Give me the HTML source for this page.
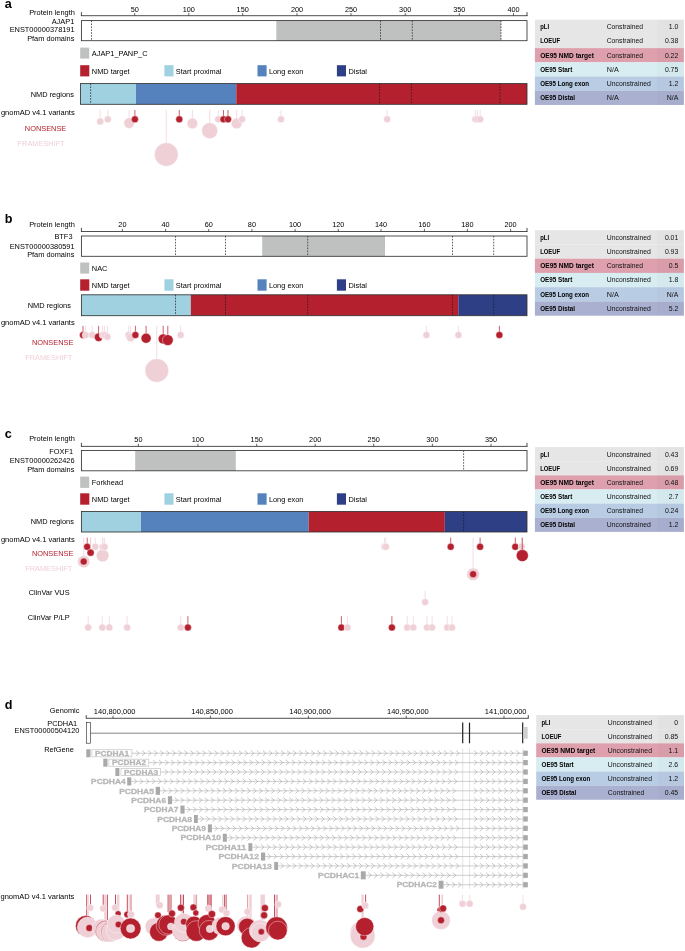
<!DOCTYPE html>
<html><head><meta charset="utf-8"><title>Figure</title>
<style>html,body{margin:0;padding:0;background:#fff}svg{display:block;will-change:transform}text{font-family:"Liberation Sans",sans-serif}</style>
</head><body>
<svg width="685" height="951" viewBox="0 0 685 951">
<rect width="685" height="951" fill="#fff"/>
<text x="4.8" y="8.4" font-size="12.6" text-anchor="start" fill="#000" font-weight="bold">a</text>
<line x1="81.00" y1="15.70" x2="527.40" y2="15.70" stroke="#222" stroke-width="0.8"/>
<line x1="81.40" y1="12.10" x2="81.40" y2="16.00" stroke="#222" stroke-width="0.8"/>
<line x1="527.00" y1="12.10" x2="527.00" y2="16.00" stroke="#222" stroke-width="0.8"/>
<line x1="134.70" y1="13.10" x2="134.70" y2="15.70" stroke="#222" stroke-width="0.7"/>
<text x="134.7" y="11.7" font-size="7.3" text-anchor="middle" fill="#000">50</text>
<line x1="188.80" y1="13.10" x2="188.80" y2="15.70" stroke="#222" stroke-width="0.7"/>
<text x="188.8" y="11.7" font-size="7.3" text-anchor="middle" fill="#000">100</text>
<line x1="242.70" y1="13.10" x2="242.70" y2="15.70" stroke="#222" stroke-width="0.7"/>
<text x="242.7" y="11.7" font-size="7.3" text-anchor="middle" fill="#000">150</text>
<line x1="297.00" y1="13.10" x2="297.00" y2="15.70" stroke="#222" stroke-width="0.7"/>
<text x="297.0" y="11.7" font-size="7.3" text-anchor="middle" fill="#000">200</text>
<line x1="351.00" y1="13.10" x2="351.00" y2="15.70" stroke="#222" stroke-width="0.7"/>
<text x="351.0" y="11.7" font-size="7.3" text-anchor="middle" fill="#000">250</text>
<line x1="405.20" y1="13.10" x2="405.20" y2="15.70" stroke="#222" stroke-width="0.7"/>
<text x="405.2" y="11.7" font-size="7.3" text-anchor="middle" fill="#000">300</text>
<line x1="459.30" y1="13.10" x2="459.30" y2="15.70" stroke="#222" stroke-width="0.7"/>
<text x="459.3" y="11.7" font-size="7.3" text-anchor="middle" fill="#000">350</text>
<line x1="513.50" y1="13.10" x2="513.50" y2="15.70" stroke="#222" stroke-width="0.7"/>
<text x="513.5" y="11.7" font-size="7.3" text-anchor="middle" fill="#000">400</text>
<text x="74.8" y="14.8" font-size="7.4" text-anchor="end" fill="#000">Protein length</text>
<text x="74.3" y="23.7" font-size="7.4" text-anchor="end" fill="#000">AJAP1</text>
<text x="74.6" y="32.1" font-size="7.4" text-anchor="end" fill="#000">ENST00000378191</text>
<text x="74.4" y="40.9" font-size="7.4" text-anchor="end" fill="#000">Pfam domains</text>
<rect x="81.40" y="20.60" width="445.60" height="20.10" fill="#fff"/>
<rect x="276.30" y="20.60" width="224.70" height="20.10" fill="#bfc1c0"/>
<line x1="91.50" y1="20.60" x2="91.50" y2="40.70" stroke="#1a1a1a" stroke-width="0.7" stroke-dasharray="1.6 1.3"/>
<line x1="380.50" y1="20.60" x2="380.50" y2="40.70" stroke="#1a1a1a" stroke-width="0.7" stroke-dasharray="1.6 1.3"/>
<line x1="412.30" y1="20.60" x2="412.30" y2="40.70" stroke="#1a1a1a" stroke-width="0.7" stroke-dasharray="1.6 1.3"/>
<line x1="501.00" y1="20.60" x2="501.00" y2="40.70" stroke="#1a1a1a" stroke-width="0.7" stroke-dasharray="1.6 1.3"/>
<rect x="81.40" y="20.60" width="445.60" height="20.10" fill="none" stroke="#333" stroke-width="0.85"/>
<rect x="80.20" y="47.60" width="9.00" height="11.00" fill="#bfc1c0"/>
<text x="91.8" y="55.7" font-size="7.4" text-anchor="start" fill="#000">AJAP1_PANP_C</text>
<rect x="80.20" y="65.20" width="9.10" height="11.20" fill="#b5202e"/>
<text x="91.8" y="73.5" font-size="7.4" text-anchor="start" fill="#000">NMD target</text>
<rect x="164.40" y="65.20" width="9.10" height="11.20" fill="#9fd1e1"/>
<text x="175.8" y="73.5" font-size="7.4" text-anchor="start" fill="#000">Start proximal</text>
<rect x="257.50" y="65.20" width="9.10" height="11.20" fill="#5581bd"/>
<text x="268.9" y="73.5" font-size="7.4" text-anchor="start" fill="#000">Long exon</text>
<rect x="336.90" y="65.20" width="9.10" height="11.20" fill="#2f3f86"/>
<text x="348.5" y="73.5" font-size="7.4" text-anchor="start" fill="#000">Distal</text>
<rect x="80.50" y="83.60" width="55.50" height="20.70" fill="#9fd1e1"/>
<rect x="136.00" y="83.60" width="100.30" height="20.70" fill="#5581bd"/>
<rect x="236.30" y="83.60" width="290.70" height="20.70" fill="#b5202e"/>
<line x1="90.60" y1="83.60" x2="90.60" y2="104.30" stroke="#1a1a1a" stroke-width="0.7" stroke-dasharray="1.6 1.3"/>
<line x1="379.60" y1="83.60" x2="379.60" y2="104.30" stroke="#1a1a1a" stroke-width="0.7" stroke-dasharray="1.6 1.3"/>
<line x1="411.40" y1="83.60" x2="411.40" y2="104.30" stroke="#1a1a1a" stroke-width="0.7" stroke-dasharray="1.6 1.3"/>
<line x1="500.10" y1="83.60" x2="500.10" y2="104.30" stroke="#1a1a1a" stroke-width="0.7" stroke-dasharray="1.6 1.3"/>
<rect x="80.50" y="83.60" width="446.50" height="20.70" fill="none" stroke="#333" stroke-width="0.85"/>
<text x="73.9" y="96.6" font-size="7.4" text-anchor="end" fill="#000">NMD regions</text>
<text x="74.7" y="115.1" font-size="7.5" text-anchor="end" fill="#000">gnomAD v4.1 variants</text>
<rect x="534.90" y="19.70" width="149.00" height="14.25" fill="#e5e6e5"/>
<text x="540.1999999999999" y="29.25" font-size="6.8" text-anchor="start" fill="#000" font-weight="bold" textLength="8.9" lengthAdjust="spacingAndGlyphs">pLI</text>
<text x="606.6999999999999" y="29.25" font-size="6.9" text-anchor="start" fill="#111" textLength="36.4" lengthAdjust="spacingAndGlyphs">Constrained</text>
<text x="678.3" y="29.25" font-size="6.9" text-anchor="end" fill="#111">1.0</text>
<rect x="534.90" y="33.90" width="149.00" height="14.25" fill="#e5e6e5"/>
<text x="540.1999999999999" y="43.45" font-size="6.8" text-anchor="start" fill="#000" font-weight="bold" textLength="19.9" lengthAdjust="spacingAndGlyphs">LOEUF</text>
<text x="606.6999999999999" y="43.45" font-size="6.9" text-anchor="start" fill="#111" textLength="36.4" lengthAdjust="spacingAndGlyphs">Constrained</text>
<text x="678.3" y="43.45" font-size="6.9" text-anchor="end" fill="#111">0.38</text>
<rect x="534.90" y="48.10" width="149.00" height="14.25" fill="#dda0ac"/>
<text x="540.1999999999999" y="57.64999999999999" font-size="6.8" text-anchor="start" fill="#000" font-weight="bold" textLength="53.8" lengthAdjust="spacingAndGlyphs">OE95 NMD target</text>
<text x="606.6999999999999" y="57.64999999999999" font-size="6.9" text-anchor="start" fill="#111" textLength="36.4" lengthAdjust="spacingAndGlyphs">Constrained</text>
<text x="678.3" y="57.64999999999999" font-size="6.9" text-anchor="end" fill="#111">0.22</text>
<rect x="534.90" y="62.30" width="149.00" height="14.25" fill="#d8edf2"/>
<text x="540.1999999999999" y="71.85" font-size="6.8" text-anchor="start" fill="#000" font-weight="bold" textLength="32.2" lengthAdjust="spacingAndGlyphs">OE95 Start</text>
<text x="606.6999999999999" y="71.85" font-size="6.9" text-anchor="start" fill="#111" textLength="12.0" lengthAdjust="spacingAndGlyphs">N/A</text>
<text x="678.3" y="71.85" font-size="6.9" text-anchor="end" fill="#111">0.75</text>
<rect x="534.90" y="76.50" width="149.00" height="14.25" fill="#b8cce4"/>
<text x="540.1999999999999" y="86.05" font-size="6.8" text-anchor="start" fill="#000" font-weight="bold" textLength="48.8" lengthAdjust="spacingAndGlyphs">OE95 Long exon</text>
<text x="606.6999999999999" y="86.05" font-size="6.9" text-anchor="start" fill="#111" textLength="44.2" lengthAdjust="spacingAndGlyphs">Unconstrained</text>
<text x="678.3" y="86.05" font-size="6.9" text-anchor="end" fill="#111">1.2</text>
<rect x="534.90" y="90.70" width="149.00" height="14.25" fill="#aab0d0"/>
<text x="540.1999999999999" y="100.25" font-size="6.8" text-anchor="start" fill="#000" font-weight="bold" textLength="34.8" lengthAdjust="spacingAndGlyphs">OE95 Distal</text>
<text x="606.6999999999999" y="100.25" font-size="6.9" text-anchor="start" fill="#111" textLength="12.0" lengthAdjust="spacingAndGlyphs">N/A</text>
<text x="678.3" y="100.25" font-size="6.9" text-anchor="end" fill="#111">N/A</text>
<rect x="656.90" y="19.70" width="27.00" height="85.20" fill="#000" opacity="0.015"/>
<text x="66.3" y="131.3" font-size="7.4" text-anchor="end" fill="#b5202e">NONSENSE</text>
<text x="64.8" y="146.2" font-size="7.4" text-anchor="end" fill="#efd0d7">FRAMESHIFT</text>
<line x1="100.20" y1="110.00" x2="100.20" y2="121.40" stroke="#efd0d7" stroke-width="0.7"/>
<circle cx="100.20" cy="121.40" r="3.50" fill="#efd0d7" stroke="#fff" stroke-width="0.4"/>
<line x1="107.80" y1="110.00" x2="107.80" y2="119.30" stroke="#efd0d7" stroke-width="0.7"/>
<circle cx="107.80" cy="119.30" r="3.50" fill="#efd0d7" stroke="#fff" stroke-width="0.4"/>
<line x1="129.10" y1="110.00" x2="129.10" y2="123.10" stroke="#efd0d7" stroke-width="0.7"/>
<circle cx="129.10" cy="123.10" r="5.30" fill="#efd0d7" stroke="#fff" stroke-width="0.4"/>
<line x1="134.90" y1="110.00" x2="134.90" y2="119.30" stroke="#b5202e" stroke-width="0.7"/>
<circle cx="134.90" cy="119.30" r="3.50" fill="#b5202e" stroke="#fff" stroke-width="0.4"/>
<line x1="166.30" y1="110.00" x2="166.30" y2="154.50" stroke="#efd0d7" stroke-width="0.7"/>
<circle cx="166.30" cy="154.50" r="11.80" fill="#efd0d7" stroke="#fff" stroke-width="0.4"/>
<line x1="179.30" y1="110.00" x2="179.30" y2="119.30" stroke="#b5202e" stroke-width="0.7"/>
<circle cx="179.30" cy="119.30" r="3.50" fill="#b5202e" stroke="#fff" stroke-width="0.4"/>
<line x1="192.40" y1="110.00" x2="192.40" y2="123.40" stroke="#efd0d7" stroke-width="0.7"/>
<circle cx="192.40" cy="123.40" r="5.30" fill="#efd0d7" stroke="#fff" stroke-width="0.4"/>
<line x1="209.70" y1="110.00" x2="209.70" y2="130.70" stroke="#efd0d7" stroke-width="0.7"/>
<circle cx="209.70" cy="130.70" r="8.00" fill="#efd0d7" stroke="#fff" stroke-width="0.4"/>
<line x1="218.20" y1="110.00" x2="218.20" y2="119.30" stroke="#efd0d7" stroke-width="0.7"/>
<circle cx="218.20" cy="119.30" r="3.50" fill="#efd0d7" stroke="#fff" stroke-width="0.4"/>
<line x1="223.50" y1="110.00" x2="223.50" y2="119.30" stroke="#b5202e" stroke-width="0.7"/>
<circle cx="223.50" cy="119.30" r="3.50" fill="#b5202e" stroke="#fff" stroke-width="0.4"/>
<line x1="228.00" y1="110.00" x2="228.00" y2="119.30" stroke="#b5202e" stroke-width="0.7"/>
<circle cx="228.00" cy="119.30" r="3.50" fill="#b5202e" stroke="#fff" stroke-width="0.4"/>
<line x1="236.60" y1="110.00" x2="236.60" y2="123.40" stroke="#efd0d7" stroke-width="0.7"/>
<circle cx="236.60" cy="123.40" r="5.30" fill="#efd0d7" stroke="#fff" stroke-width="0.4"/>
<line x1="242.10" y1="110.00" x2="242.10" y2="119.30" stroke="#efd0d7" stroke-width="0.7"/>
<circle cx="242.10" cy="119.30" r="3.50" fill="#efd0d7" stroke="#fff" stroke-width="0.4"/>
<line x1="281.00" y1="110.00" x2="281.00" y2="119.30" stroke="#efd0d7" stroke-width="0.7"/>
<circle cx="281.00" cy="119.30" r="3.50" fill="#efd0d7" stroke="#fff" stroke-width="0.4"/>
<line x1="387.20" y1="110.00" x2="387.20" y2="119.30" stroke="#efd0d7" stroke-width="0.7"/>
<circle cx="387.20" cy="119.30" r="3.50" fill="#efd0d7" stroke="#fff" stroke-width="0.4"/>
<line x1="475.40" y1="110.00" x2="475.40" y2="119.30" stroke="#efd0d7" stroke-width="0.7"/>
<circle cx="475.40" cy="119.30" r="3.50" fill="#efd0d7" stroke="#fff" stroke-width="0.4"/>
<line x1="477.40" y1="110.00" x2="477.40" y2="119.30" stroke="#efd0d7" stroke-width="0.7"/>
<circle cx="477.40" cy="119.30" r="3.50" fill="#efd0d7" stroke="#fff" stroke-width="0.4"/>
<line x1="480.20" y1="110.00" x2="480.20" y2="119.30" stroke="#efd0d7" stroke-width="0.7"/>
<circle cx="480.20" cy="119.30" r="3.50" fill="#efd0d7" stroke="#fff" stroke-width="0.4"/>
<text x="4.8" y="222.6" font-size="12.6" text-anchor="start" fill="#000" font-weight="bold">b</text>
<line x1="81.00" y1="231.50" x2="527.40" y2="231.50" stroke="#222" stroke-width="0.8"/>
<line x1="81.40" y1="227.90" x2="81.40" y2="231.80" stroke="#222" stroke-width="0.8"/>
<line x1="527.00" y1="227.90" x2="527.00" y2="231.80" stroke="#222" stroke-width="0.8"/>
<line x1="122.40" y1="228.90" x2="122.40" y2="231.50" stroke="#222" stroke-width="0.7"/>
<text x="122.4" y="227.4" font-size="7.3" text-anchor="middle" fill="#000">20</text>
<line x1="165.60" y1="228.90" x2="165.60" y2="231.50" stroke="#222" stroke-width="0.7"/>
<text x="165.6" y="227.4" font-size="7.3" text-anchor="middle" fill="#000">40</text>
<line x1="208.70" y1="228.90" x2="208.70" y2="231.50" stroke="#222" stroke-width="0.7"/>
<text x="208.7" y="227.4" font-size="7.3" text-anchor="middle" fill="#000">60</text>
<line x1="251.90" y1="228.90" x2="251.90" y2="231.50" stroke="#222" stroke-width="0.7"/>
<text x="251.9" y="227.4" font-size="7.3" text-anchor="middle" fill="#000">80</text>
<line x1="295.10" y1="228.90" x2="295.10" y2="231.50" stroke="#222" stroke-width="0.7"/>
<text x="295.1" y="227.4" font-size="7.3" text-anchor="middle" fill="#000">100</text>
<line x1="338.30" y1="228.90" x2="338.30" y2="231.50" stroke="#222" stroke-width="0.7"/>
<text x="338.3" y="227.4" font-size="7.3" text-anchor="middle" fill="#000">120</text>
<line x1="381.00" y1="228.90" x2="381.00" y2="231.50" stroke="#222" stroke-width="0.7"/>
<text x="381.0" y="227.4" font-size="7.3" text-anchor="middle" fill="#000">140</text>
<line x1="424.40" y1="228.90" x2="424.40" y2="231.50" stroke="#222" stroke-width="0.7"/>
<text x="424.4" y="227.4" font-size="7.3" text-anchor="middle" fill="#000">160</text>
<line x1="467.40" y1="228.90" x2="467.40" y2="231.50" stroke="#222" stroke-width="0.7"/>
<text x="467.4" y="227.4" font-size="7.3" text-anchor="middle" fill="#000">180</text>
<line x1="510.60" y1="228.90" x2="510.60" y2="231.50" stroke="#222" stroke-width="0.7"/>
<text x="510.6" y="227.4" font-size="7.3" text-anchor="middle" fill="#000">200</text>
<text x="74.8" y="226.5" font-size="7.4" text-anchor="end" fill="#000">Protein length</text>
<text x="72.5" y="239.4" font-size="7.4" text-anchor="end" fill="#000">BTF3</text>
<text x="74.6" y="248.6" font-size="7.4" text-anchor="end" fill="#000">ENST00000380591</text>
<text x="74.4" y="257.3" font-size="7.4" text-anchor="end" fill="#000">Pfam domains</text>
<rect x="81.40" y="236.00" width="445.60" height="20.30" fill="#fff"/>
<rect x="262.20" y="236.00" width="122.80" height="20.30" fill="#bfc1c0"/>
<line x1="175.50" y1="236.00" x2="175.50" y2="256.30" stroke="#1a1a1a" stroke-width="0.7" stroke-dasharray="1.6 1.3"/>
<line x1="225.50" y1="236.00" x2="225.50" y2="256.30" stroke="#1a1a1a" stroke-width="0.7" stroke-dasharray="1.6 1.3"/>
<line x1="307.70" y1="236.00" x2="307.70" y2="256.30" stroke="#1a1a1a" stroke-width="0.7" stroke-dasharray="1.6 1.3"/>
<line x1="452.50" y1="236.00" x2="452.50" y2="256.30" stroke="#1a1a1a" stroke-width="0.7" stroke-dasharray="1.6 1.3"/>
<line x1="493.70" y1="236.00" x2="493.70" y2="256.30" stroke="#1a1a1a" stroke-width="0.7" stroke-dasharray="1.6 1.3"/>
<rect x="81.40" y="236.00" width="445.60" height="20.30" fill="none" stroke="#333" stroke-width="0.85"/>
<rect x="80.20" y="262.50" width="9.00" height="11.10" fill="#bfc1c0"/>
<text x="91.8" y="270.8" font-size="7.4" text-anchor="start" fill="#000">NAC</text>
<rect x="80.20" y="279.30" width="9.10" height="11.40" fill="#b5202e"/>
<text x="91.8" y="287.6" font-size="7.4" text-anchor="start" fill="#000">NMD target</text>
<rect x="164.40" y="279.30" width="9.10" height="11.40" fill="#9fd1e1"/>
<text x="175.8" y="287.6" font-size="7.4" text-anchor="start" fill="#000">Start proximal</text>
<rect x="257.50" y="279.30" width="9.10" height="11.40" fill="#5581bd"/>
<text x="268.9" y="287.6" font-size="7.4" text-anchor="start" fill="#000">Long exon</text>
<rect x="336.90" y="279.30" width="9.10" height="11.40" fill="#2f3f86"/>
<text x="348.5" y="287.6" font-size="7.4" text-anchor="start" fill="#000">Distal</text>
<rect x="81.40" y="294.80" width="109.40" height="20.90" fill="#9fd1e1"/>
<rect x="190.80" y="294.80" width="267.50" height="20.90" fill="#b5202e"/>
<rect x="458.30" y="294.80" width="68.70" height="20.90" fill="#2f3f86"/>
<line x1="175.50" y1="294.80" x2="175.50" y2="315.70" stroke="#1a1a1a" stroke-width="0.7" stroke-dasharray="1.6 1.3"/>
<line x1="225.50" y1="294.80" x2="225.50" y2="315.70" stroke="#1a1a1a" stroke-width="0.7" stroke-dasharray="1.6 1.3"/>
<line x1="307.70" y1="294.80" x2="307.70" y2="315.70" stroke="#1a1a1a" stroke-width="0.7" stroke-dasharray="1.6 1.3"/>
<line x1="452.50" y1="294.80" x2="452.50" y2="315.70" stroke="#1a1a1a" stroke-width="0.7" stroke-dasharray="1.6 1.3"/>
<line x1="493.70" y1="294.80" x2="493.70" y2="315.70" stroke="#1a1a1a" stroke-width="0.7" stroke-dasharray="1.6 1.3"/>
<rect x="81.40" y="294.80" width="445.60" height="20.90" fill="none" stroke="#333" stroke-width="0.85"/>
<text x="70.9" y="307.9" font-size="7.4" text-anchor="end" fill="#000">NMD regions</text>
<text x="74.7" y="325.4" font-size="7.5" text-anchor="end" fill="#000">gnomAD v4.1 variants</text>
<rect x="534.90" y="230.20" width="149.00" height="14.29" fill="#e5e6e5"/>
<text x="540.1999999999999" y="239.75" font-size="6.8" text-anchor="start" fill="#000" font-weight="bold" textLength="8.9" lengthAdjust="spacingAndGlyphs">pLI</text>
<text x="606.6999999999999" y="239.75" font-size="6.9" text-anchor="start" fill="#111" textLength="44.2" lengthAdjust="spacingAndGlyphs">Unconstrained</text>
<text x="678.3" y="239.75" font-size="6.9" text-anchor="end" fill="#111">0.01</text>
<rect x="534.90" y="244.44" width="149.00" height="14.29" fill="#e5e6e5"/>
<text x="540.1999999999999" y="253.99" font-size="6.8" text-anchor="start" fill="#000" font-weight="bold" textLength="19.9" lengthAdjust="spacingAndGlyphs">LOEUF</text>
<text x="606.6999999999999" y="253.99" font-size="6.9" text-anchor="start" fill="#111" textLength="44.2" lengthAdjust="spacingAndGlyphs">Unconstrained</text>
<text x="678.3" y="253.99" font-size="6.9" text-anchor="end" fill="#111">0.93</text>
<rect x="534.90" y="258.68" width="149.00" height="14.29" fill="#dda0ac"/>
<text x="540.1999999999999" y="268.23" font-size="6.8" text-anchor="start" fill="#000" font-weight="bold" textLength="53.8" lengthAdjust="spacingAndGlyphs">OE95 NMD target</text>
<text x="606.6999999999999" y="268.23" font-size="6.9" text-anchor="start" fill="#111" textLength="36.4" lengthAdjust="spacingAndGlyphs">Constrained</text>
<text x="678.3" y="268.23" font-size="6.9" text-anchor="end" fill="#111">0.5</text>
<rect x="534.90" y="272.92" width="149.00" height="14.29" fill="#d8edf2"/>
<text x="540.1999999999999" y="282.46999999999997" font-size="6.8" text-anchor="start" fill="#000" font-weight="bold" textLength="32.2" lengthAdjust="spacingAndGlyphs">OE95 Start</text>
<text x="606.6999999999999" y="282.46999999999997" font-size="6.9" text-anchor="start" fill="#111" textLength="44.2" lengthAdjust="spacingAndGlyphs">Unconstrained</text>
<text x="678.3" y="282.46999999999997" font-size="6.9" text-anchor="end" fill="#111">1.8</text>
<rect x="534.90" y="287.16" width="149.00" height="14.29" fill="#b8cce4"/>
<text x="540.1999999999999" y="296.71" font-size="6.8" text-anchor="start" fill="#000" font-weight="bold" textLength="48.8" lengthAdjust="spacingAndGlyphs">OE95 Long exon</text>
<text x="606.6999999999999" y="296.71" font-size="6.9" text-anchor="start" fill="#111" textLength="12.0" lengthAdjust="spacingAndGlyphs">N/A</text>
<text x="678.3" y="296.71" font-size="6.9" text-anchor="end" fill="#111">N/A</text>
<rect x="534.90" y="301.40" width="149.00" height="14.29" fill="#aab0d0"/>
<text x="540.1999999999999" y="310.95" font-size="6.8" text-anchor="start" fill="#000" font-weight="bold" textLength="34.8" lengthAdjust="spacingAndGlyphs">OE95 Distal</text>
<text x="606.6999999999999" y="310.95" font-size="6.9" text-anchor="start" fill="#111" textLength="44.2" lengthAdjust="spacingAndGlyphs">Unconstrained</text>
<text x="678.3" y="310.95" font-size="6.9" text-anchor="end" fill="#111">5.2</text>
<rect x="656.90" y="230.20" width="27.00" height="85.44" fill="#000" opacity="0.015"/>
<text x="73.4" y="344.9" font-size="7.4" text-anchor="end" fill="#b5202e">NONSENSE</text>
<text x="72.4" y="359.8" font-size="7.4" text-anchor="end" fill="#efd0d7">FRAMESHIFT</text>
<line x1="83.00" y1="325.80" x2="83.00" y2="335.00" stroke="#b5202e" stroke-width="0.7"/>
<circle cx="83.00" cy="335.00" r="3.50" fill="#b5202e" stroke="#fff" stroke-width="0.4"/>
<line x1="85.60" y1="325.80" x2="85.60" y2="335.00" stroke="#efd0d7" stroke-width="0.7"/>
<circle cx="85.60" cy="335.00" r="3.50" fill="#efd0d7" stroke="#fff" stroke-width="0.4"/>
<line x1="92.30" y1="325.80" x2="92.30" y2="335.00" stroke="#efd0d7" stroke-width="0.7"/>
<circle cx="92.30" cy="335.00" r="3.50" fill="#efd0d7" stroke="#fff" stroke-width="0.4"/>
<line x1="98.60" y1="325.80" x2="98.60" y2="337.30" stroke="#b5202e" stroke-width="0.7"/>
<circle cx="98.60" cy="337.30" r="4.20" fill="#b5202e" stroke="#fff" stroke-width="0.4"/>
<line x1="102.60" y1="325.80" x2="102.60" y2="335.00" stroke="#efd0d7" stroke-width="0.7"/>
<circle cx="102.60" cy="335.00" r="3.50" fill="#efd0d7" stroke="#fff" stroke-width="0.4"/>
<line x1="104.60" y1="325.80" x2="104.60" y2="335.00" stroke="#efd0d7" stroke-width="0.7"/>
<circle cx="104.60" cy="335.00" r="3.50" fill="#efd0d7" stroke="#fff" stroke-width="0.4"/>
<line x1="107.40" y1="325.80" x2="107.40" y2="336.70" stroke="#efd0d7" stroke-width="0.7"/>
<circle cx="107.40" cy="336.70" r="3.50" fill="#efd0d7" stroke="#fff" stroke-width="0.4"/>
<line x1="128.60" y1="325.80" x2="128.60" y2="335.00" stroke="#efd0d7" stroke-width="0.7"/>
<circle cx="128.60" cy="335.00" r="3.50" fill="#efd0d7" stroke="#fff" stroke-width="0.4"/>
<line x1="130.60" y1="325.80" x2="130.60" y2="337.60" stroke="#efd0d7" stroke-width="0.7"/>
<circle cx="130.60" cy="337.60" r="4.20" fill="#efd0d7" stroke="#fff" stroke-width="0.4"/>
<line x1="135.40" y1="325.80" x2="135.40" y2="335.00" stroke="#b5202e" stroke-width="0.7"/>
<circle cx="135.40" cy="335.00" r="3.50" fill="#b5202e" stroke="#fff" stroke-width="0.4"/>
<line x1="146.10" y1="325.80" x2="146.10" y2="338.30" stroke="#b5202e" stroke-width="0.7"/>
<circle cx="146.10" cy="338.30" r="5.00" fill="#b5202e" stroke="#fff" stroke-width="0.4"/>
<line x1="156.80" y1="325.80" x2="156.80" y2="370.50" stroke="#efd0d7" stroke-width="0.7"/>
<circle cx="156.80" cy="370.50" r="11.80" fill="#efd0d7" stroke="#fff" stroke-width="0.4"/>
<line x1="163.20" y1="325.80" x2="163.20" y2="339.00" stroke="#b5202e" stroke-width="0.7"/>
<circle cx="163.20" cy="339.00" r="5.00" fill="#b5202e" stroke="#fff" stroke-width="0.4"/>
<line x1="167.80" y1="325.80" x2="167.80" y2="340.10" stroke="#b5202e" stroke-width="0.7"/>
<circle cx="167.80" cy="340.10" r="5.40" fill="#b5202e" stroke="#fff" stroke-width="0.4"/>
<line x1="180.60" y1="325.80" x2="180.60" y2="335.00" stroke="#efd0d7" stroke-width="0.7"/>
<circle cx="180.60" cy="335.00" r="3.50" fill="#efd0d7" stroke="#fff" stroke-width="0.4"/>
<line x1="426.40" y1="325.80" x2="426.40" y2="335.00" stroke="#efd0d7" stroke-width="0.7"/>
<circle cx="426.40" cy="335.00" r="3.50" fill="#efd0d7" stroke="#fff" stroke-width="0.4"/>
<line x1="458.40" y1="325.80" x2="458.40" y2="335.00" stroke="#efd0d7" stroke-width="0.7"/>
<circle cx="458.40" cy="335.00" r="3.50" fill="#efd0d7" stroke="#fff" stroke-width="0.4"/>
<line x1="499.40" y1="325.80" x2="499.40" y2="335.00" stroke="#b5202e" stroke-width="0.7"/>
<circle cx="499.40" cy="335.00" r="3.50" fill="#b5202e" stroke="#fff" stroke-width="0.4"/>
<text x="4.8" y="438.3" font-size="12.6" text-anchor="start" fill="#000" font-weight="bold">c</text>
<line x1="81.00" y1="446.40" x2="527.40" y2="446.40" stroke="#222" stroke-width="0.8"/>
<line x1="81.40" y1="442.80" x2="81.40" y2="446.70" stroke="#222" stroke-width="0.8"/>
<line x1="527.00" y1="442.80" x2="527.00" y2="446.70" stroke="#222" stroke-width="0.8"/>
<line x1="138.40" y1="443.80" x2="138.40" y2="446.40" stroke="#222" stroke-width="0.7"/>
<text x="138.4" y="441.6" font-size="7.3" text-anchor="middle" fill="#000">50</text>
<line x1="197.90" y1="443.80" x2="197.90" y2="446.40" stroke="#222" stroke-width="0.7"/>
<text x="197.9" y="441.6" font-size="7.3" text-anchor="middle" fill="#000">100</text>
<line x1="256.70" y1="443.80" x2="256.70" y2="446.40" stroke="#222" stroke-width="0.7"/>
<text x="256.7" y="441.6" font-size="7.3" text-anchor="middle" fill="#000">150</text>
<line x1="315.20" y1="443.80" x2="315.20" y2="446.40" stroke="#222" stroke-width="0.7"/>
<text x="315.2" y="441.6" font-size="7.3" text-anchor="middle" fill="#000">200</text>
<line x1="373.70" y1="443.80" x2="373.70" y2="446.40" stroke="#222" stroke-width="0.7"/>
<text x="373.7" y="441.6" font-size="7.3" text-anchor="middle" fill="#000">250</text>
<line x1="432.40" y1="443.80" x2="432.40" y2="446.40" stroke="#222" stroke-width="0.7"/>
<text x="432.4" y="441.6" font-size="7.3" text-anchor="middle" fill="#000">300</text>
<line x1="491.00" y1="443.80" x2="491.00" y2="446.40" stroke="#222" stroke-width="0.7"/>
<text x="491.0" y="441.6" font-size="7.3" text-anchor="middle" fill="#000">350</text>
<text x="74.8" y="441.2" font-size="7.4" text-anchor="end" fill="#000">Protein length</text>
<text x="73.2" y="454.2" font-size="7.4" text-anchor="end" fill="#000">FOXF1</text>
<text x="74.6" y="463.4" font-size="7.4" text-anchor="end" fill="#000">ENST00000262426</text>
<text x="74.4" y="472.2" font-size="7.4" text-anchor="end" fill="#000">Pfam domains</text>
<rect x="81.40" y="450.50" width="445.60" height="20.30" fill="#fff"/>
<rect x="135.20" y="450.50" width="100.60" height="20.30" fill="#bfc1c0"/>
<line x1="463.60" y1="450.50" x2="463.60" y2="470.80" stroke="#1a1a1a" stroke-width="0.7" stroke-dasharray="1.6 1.3"/>
<rect x="81.40" y="450.50" width="445.60" height="20.30" fill="none" stroke="#333" stroke-width="0.85"/>
<rect x="80.20" y="476.60" width="9.00" height="11.30" fill="#bfc1c0"/>
<text x="91.8" y="484.9" font-size="7.4" text-anchor="start" fill="#000">Forkhead</text>
<rect x="80.20" y="493.30" width="9.10" height="11.40" fill="#b5202e"/>
<text x="91.8" y="501.7" font-size="7.4" text-anchor="start" fill="#000">NMD target</text>
<rect x="164.40" y="493.30" width="9.10" height="11.40" fill="#9fd1e1"/>
<text x="175.8" y="501.7" font-size="7.4" text-anchor="start" fill="#000">Start proximal</text>
<rect x="257.50" y="493.30" width="9.10" height="11.40" fill="#5581bd"/>
<text x="268.9" y="501.7" font-size="7.4" text-anchor="start" fill="#000">Long exon</text>
<rect x="336.90" y="493.30" width="9.10" height="11.40" fill="#2f3f86"/>
<text x="348.5" y="501.7" font-size="7.4" text-anchor="start" fill="#000">Distal</text>
<rect x="81.40" y="511.50" width="59.60" height="20.50" fill="#9fd1e1"/>
<rect x="141.00" y="511.50" width="167.70" height="20.50" fill="#5581bd"/>
<rect x="308.70" y="511.50" width="136.10" height="20.50" fill="#b5202e"/>
<rect x="444.80" y="511.50" width="82.20" height="20.50" fill="#2f3f86"/>
<line x1="463.60" y1="511.50" x2="463.60" y2="532.00" stroke="#1a1a1a" stroke-width="0.7" stroke-dasharray="1.6 1.3"/>
<rect x="81.40" y="511.50" width="445.60" height="20.50" fill="none" stroke="#333" stroke-width="0.85"/>
<text x="73.9" y="523.6" font-size="7.4" text-anchor="end" fill="#000">NMD regions</text>
<text x="74.7" y="541.6" font-size="7.5" text-anchor="end" fill="#000">gnomAD v4.1 variants</text>
<rect x="534.90" y="447.10" width="149.00" height="14.17" fill="#e5e6e5"/>
<text x="540.1999999999999" y="456.65000000000003" font-size="6.8" text-anchor="start" fill="#000" font-weight="bold" textLength="8.9" lengthAdjust="spacingAndGlyphs">pLI</text>
<text x="606.6999999999999" y="456.65000000000003" font-size="6.9" text-anchor="start" fill="#111" textLength="44.2" lengthAdjust="spacingAndGlyphs">Unconstrained</text>
<text x="678.3" y="456.65000000000003" font-size="6.9" text-anchor="end" fill="#111">0.43</text>
<rect x="534.90" y="461.22" width="149.00" height="14.17" fill="#e5e6e5"/>
<text x="540.1999999999999" y="470.77000000000004" font-size="6.8" text-anchor="start" fill="#000" font-weight="bold" textLength="19.9" lengthAdjust="spacingAndGlyphs">LOEUF</text>
<text x="606.6999999999999" y="470.77000000000004" font-size="6.9" text-anchor="start" fill="#111" textLength="44.2" lengthAdjust="spacingAndGlyphs">Unconstrained</text>
<text x="678.3" y="470.77000000000004" font-size="6.9" text-anchor="end" fill="#111">0.69</text>
<rect x="534.90" y="475.34" width="149.00" height="14.17" fill="#dda0ac"/>
<text x="540.1999999999999" y="484.89000000000004" font-size="6.8" text-anchor="start" fill="#000" font-weight="bold" textLength="53.8" lengthAdjust="spacingAndGlyphs">OE95 NMD target</text>
<text x="606.6999999999999" y="484.89000000000004" font-size="6.9" text-anchor="start" fill="#111" textLength="36.4" lengthAdjust="spacingAndGlyphs">Constrained</text>
<text x="678.3" y="484.89000000000004" font-size="6.9" text-anchor="end" fill="#111">0.48</text>
<rect x="534.90" y="489.46" width="149.00" height="14.17" fill="#d8edf2"/>
<text x="540.1999999999999" y="499.01000000000005" font-size="6.8" text-anchor="start" fill="#000" font-weight="bold" textLength="32.2" lengthAdjust="spacingAndGlyphs">OE95 Start</text>
<text x="606.6999999999999" y="499.01000000000005" font-size="6.9" text-anchor="start" fill="#111" textLength="44.2" lengthAdjust="spacingAndGlyphs">Unconstrained</text>
<text x="678.3" y="499.01000000000005" font-size="6.9" text-anchor="end" fill="#111">2.7</text>
<rect x="534.90" y="503.58" width="149.00" height="14.17" fill="#b8cce4"/>
<text x="540.1999999999999" y="513.13" font-size="6.8" text-anchor="start" fill="#000" font-weight="bold" textLength="48.8" lengthAdjust="spacingAndGlyphs">OE95 Long exon</text>
<text x="606.6999999999999" y="513.13" font-size="6.9" text-anchor="start" fill="#111" textLength="36.4" lengthAdjust="spacingAndGlyphs">Constrained</text>
<text x="678.3" y="513.13" font-size="6.9" text-anchor="end" fill="#111">0.24</text>
<rect x="534.90" y="517.70" width="149.00" height="14.17" fill="#aab0d0"/>
<text x="540.1999999999999" y="527.25" font-size="6.8" text-anchor="start" fill="#000" font-weight="bold" textLength="34.8" lengthAdjust="spacingAndGlyphs">OE95 Distal</text>
<text x="606.6999999999999" y="527.25" font-size="6.9" text-anchor="start" fill="#111" textLength="44.2" lengthAdjust="spacingAndGlyphs">Unconstrained</text>
<text x="678.3" y="527.25" font-size="6.9" text-anchor="end" fill="#111">1.2</text>
<rect x="656.90" y="447.10" width="27.00" height="84.72" fill="#000" opacity="0.015"/>
<text x="73.4" y="556.0" font-size="7.4" text-anchor="end" fill="#b5202e">NONSENSE</text>
<text x="72.4" y="571.1" font-size="7.4" text-anchor="end" fill="#efd0d7">FRAMESHIFT</text>
<text x="69.6" y="594.6" font-size="7.4" text-anchor="end" fill="#000">ClinVar VUS</text>
<text x="69.6" y="620.4" font-size="7.4" text-anchor="end" fill="#000">ClinVar P/LP</text>
<line x1="83.70" y1="537.60" x2="83.70" y2="561.60" stroke="#efd0d7" stroke-width="0.7"/>
<circle cx="83.70" cy="561.60" r="6.10" fill="#efd0d7" stroke="#fff" stroke-width="0.4"/>
<circle cx="83.70" cy="561.60" r="3.50" fill="#b5202e" stroke="#fff" stroke-width="0.4"/>
<line x1="87.20" y1="537.60" x2="87.20" y2="546.80" stroke="#b5202e" stroke-width="0.7"/>
<circle cx="87.20" cy="546.80" r="3.50" fill="#b5202e" stroke="#fff" stroke-width="0.4"/>
<line x1="90.60" y1="537.60" x2="90.60" y2="552.70" stroke="#e8b4bd" stroke-width="0.7"/>
<circle cx="90.60" cy="552.70" r="3.60" fill="#b5202e" stroke="#fff" stroke-width="0.4"/>
<line x1="95.30" y1="537.60" x2="95.30" y2="546.80" stroke="#efd0d7" stroke-width="0.7"/>
<circle cx="95.30" cy="546.80" r="3.50" fill="#efd0d7" stroke="#fff" stroke-width="0.4"/>
<line x1="102.60" y1="537.60" x2="102.60" y2="555.50" stroke="#efd0d7" stroke-width="0.7"/>
<circle cx="102.60" cy="555.50" r="6.30" fill="#efd0d7" stroke="#fff" stroke-width="0.4"/>
<line x1="102.80" y1="537.60" x2="102.80" y2="546.80" stroke="#efd0d7" stroke-width="0.7"/>
<circle cx="102.80" cy="546.80" r="3.50" fill="#efd0d7" stroke="#fff" stroke-width="0.4"/>
<line x1="104.60" y1="537.60" x2="104.60" y2="546.80" stroke="#efd0d7" stroke-width="0.7"/>
<circle cx="104.60" cy="546.80" r="3.50" fill="#efd0d7" stroke="#fff" stroke-width="0.4"/>
<line x1="384.60" y1="537.60" x2="384.60" y2="546.80" stroke="#efd0d7" stroke-width="0.7"/>
<circle cx="384.60" cy="546.80" r="3.50" fill="#efd0d7" stroke="#fff" stroke-width="0.4"/>
<line x1="385.90" y1="537.60" x2="385.90" y2="546.80" stroke="#efd0d7" stroke-width="0.7"/>
<circle cx="385.90" cy="546.80" r="3.50" fill="#efd0d7" stroke="#fff" stroke-width="0.4"/>
<line x1="450.70" y1="537.60" x2="450.70" y2="546.80" stroke="#b5202e" stroke-width="0.7"/>
<circle cx="450.70" cy="546.80" r="3.50" fill="#b5202e" stroke="#fff" stroke-width="0.4"/>
<line x1="473.10" y1="537.60" x2="473.10" y2="574.20" stroke="#efd0d7" stroke-width="0.7"/>
<circle cx="473.10" cy="574.20" r="6.30" fill="#efd0d7" stroke="#fff" stroke-width="0.4"/>
<circle cx="473.10" cy="574.20" r="3.50" fill="#b5202e" stroke="#fff" stroke-width="0.4"/>
<line x1="480.10" y1="537.60" x2="480.10" y2="546.80" stroke="#b5202e" stroke-width="0.7"/>
<circle cx="480.10" cy="546.80" r="3.50" fill="#b5202e" stroke="#fff" stroke-width="0.4"/>
<line x1="515.30" y1="537.60" x2="515.30" y2="546.80" stroke="#b5202e" stroke-width="0.7"/>
<circle cx="515.30" cy="546.80" r="3.50" fill="#b5202e" stroke="#fff" stroke-width="0.4"/>
<line x1="521.60" y1="537.60" x2="521.60" y2="546.80" stroke="#efd0d7" stroke-width="0.7"/>
<circle cx="521.60" cy="546.80" r="3.50" fill="#efd0d7" stroke="#fff" stroke-width="0.4"/>
<line x1="522.30" y1="537.60" x2="522.30" y2="555.60" stroke="#b5202e" stroke-width="0.7"/>
<circle cx="522.30" cy="555.60" r="6.00" fill="#b5202e" stroke="#fff" stroke-width="0.4"/>
<line x1="425.10" y1="591.00" x2="425.10" y2="602.10" stroke="#efd0d7" stroke-width="0.7"/>
<circle cx="425.10" cy="602.10" r="3.50" fill="#efd0d7" stroke="#fff" stroke-width="0.4"/>
<line x1="88.20" y1="616.20" x2="88.20" y2="627.50" stroke="#efd0d7" stroke-width="0.7"/>
<circle cx="88.20" cy="627.50" r="3.50" fill="#efd0d7" stroke="#fff" stroke-width="0.4"/>
<line x1="102.30" y1="616.20" x2="102.30" y2="627.50" stroke="#efd0d7" stroke-width="0.7"/>
<circle cx="102.30" cy="627.50" r="3.50" fill="#efd0d7" stroke="#fff" stroke-width="0.4"/>
<line x1="109.30" y1="616.20" x2="109.30" y2="627.50" stroke="#efd0d7" stroke-width="0.7"/>
<circle cx="109.30" cy="627.50" r="3.50" fill="#efd0d7" stroke="#fff" stroke-width="0.4"/>
<line x1="127.10" y1="616.20" x2="127.10" y2="627.50" stroke="#efd0d7" stroke-width="0.7"/>
<circle cx="127.10" cy="627.50" r="3.50" fill="#efd0d7" stroke="#fff" stroke-width="0.4"/>
<line x1="180.80" y1="616.20" x2="180.80" y2="627.50" stroke="#efd0d7" stroke-width="0.7"/>
<circle cx="180.80" cy="627.50" r="3.50" fill="#efd0d7" stroke="#fff" stroke-width="0.4"/>
<line x1="187.90" y1="616.20" x2="187.90" y2="627.50" stroke="#b5202e" stroke-width="0.7"/>
<circle cx="187.90" cy="627.50" r="3.50" fill="#b5202e" stroke="#fff" stroke-width="0.4"/>
<line x1="341.40" y1="616.20" x2="341.40" y2="627.50" stroke="#b5202e" stroke-width="0.7"/>
<circle cx="341.40" cy="627.50" r="3.50" fill="#b5202e" stroke="#fff" stroke-width="0.4"/>
<line x1="347.50" y1="616.20" x2="347.50" y2="627.50" stroke="#efd0d7" stroke-width="0.7"/>
<circle cx="347.50" cy="627.50" r="3.50" fill="#efd0d7" stroke="#fff" stroke-width="0.4"/>
<line x1="391.90" y1="616.20" x2="391.90" y2="627.50" stroke="#b5202e" stroke-width="0.7"/>
<circle cx="391.90" cy="627.50" r="3.50" fill="#b5202e" stroke="#fff" stroke-width="0.4"/>
<line x1="407.20" y1="616.20" x2="407.20" y2="627.50" stroke="#efd0d7" stroke-width="0.7"/>
<circle cx="407.20" cy="627.50" r="3.50" fill="#efd0d7" stroke="#fff" stroke-width="0.4"/>
<line x1="413.30" y1="616.20" x2="413.30" y2="627.50" stroke="#efd0d7" stroke-width="0.7"/>
<circle cx="413.30" cy="627.50" r="3.50" fill="#efd0d7" stroke="#fff" stroke-width="0.4"/>
<line x1="427.10" y1="616.20" x2="427.10" y2="627.50" stroke="#efd0d7" stroke-width="0.7"/>
<circle cx="427.10" cy="627.50" r="3.50" fill="#efd0d7" stroke="#fff" stroke-width="0.4"/>
<line x1="432.10" y1="616.20" x2="432.10" y2="627.50" stroke="#efd0d7" stroke-width="0.7"/>
<circle cx="432.10" cy="627.50" r="3.50" fill="#efd0d7" stroke="#fff" stroke-width="0.4"/>
<line x1="447.20" y1="616.20" x2="447.20" y2="627.50" stroke="#efd0d7" stroke-width="0.7"/>
<circle cx="447.20" cy="627.50" r="3.50" fill="#efd0d7" stroke="#fff" stroke-width="0.4"/>
<line x1="452.00" y1="616.20" x2="452.00" y2="627.50" stroke="#efd0d7" stroke-width="0.7"/>
<circle cx="452.00" cy="627.50" r="3.50" fill="#efd0d7" stroke="#fff" stroke-width="0.4"/>
<text x="4.8" y="708.9" font-size="12.6" text-anchor="start" fill="#000" font-weight="bold">d</text>
<text x="79.4" y="713.2" font-size="7.4" text-anchor="end" fill="#000">Genomic</text>
<text x="77.2" y="726.0" font-size="7.4" text-anchor="end" fill="#000">PCDHA1</text>
<text x="79.4" y="733.4" font-size="7.4" text-anchor="end" fill="#000">ENST00000504120</text>
<text x="73.8" y="752.3" font-size="7.4" text-anchor="end" fill="#000">RefGene</text>
<line x1="85.90" y1="718.30" x2="528.60" y2="718.30" stroke="#222" stroke-width="0.8"/>
<line x1="86.20" y1="715.10" x2="86.20" y2="718.30" stroke="#222" stroke-width="0.8"/>
<line x1="528.30" y1="715.10" x2="528.30" y2="718.30" stroke="#222" stroke-width="0.8"/>
<line x1="113.00" y1="715.70" x2="113.00" y2="718.30" stroke="#222" stroke-width="0.7"/>
<text x="114.7" y="713.9" font-size="7.5" text-anchor="middle" fill="#000">140,800,000</text>
<line x1="210.40" y1="715.70" x2="210.40" y2="718.30" stroke="#222" stroke-width="0.7"/>
<text x="212.1" y="713.9" font-size="7.5" text-anchor="middle" fill="#000">140,850,000</text>
<line x1="308.40" y1="715.70" x2="308.40" y2="718.30" stroke="#222" stroke-width="0.7"/>
<text x="310.09999999999997" y="713.9" font-size="7.5" text-anchor="middle" fill="#000">140,900,000</text>
<line x1="406.20" y1="715.70" x2="406.20" y2="718.30" stroke="#222" stroke-width="0.7"/>
<text x="407.9" y="713.9" font-size="7.5" text-anchor="middle" fill="#000">140,950,000</text>
<line x1="504.00" y1="715.70" x2="504.00" y2="718.30" stroke="#222" stroke-width="0.7"/>
<text x="505.7" y="713.9" font-size="7.5" text-anchor="middle" fill="#000">141,000,000</text>
<line x1="90.50" y1="733.20" x2="523.00" y2="733.20" stroke="#333" stroke-width="0.6"/>
<rect x="86.40" y="722.40" width="4.10" height="20.80" fill="#fff" stroke="#222" stroke-width="0.6"/>
<line x1="462.70" y1="722.60" x2="462.70" y2="743.30" stroke="#222" stroke-width="1.2"/>
<line x1="469.50" y1="722.60" x2="469.50" y2="743.30" stroke="#222" stroke-width="1.2"/>
<line x1="522.70" y1="722.60" x2="522.70" y2="743.30" stroke="#222" stroke-width="1.2"/>
<rect x="523.40" y="726.90" width="4.30" height="11.80" fill="#cfcfcf"/>
<line x1="462.70" y1="748.50" x2="462.70" y2="888.80" stroke="#d9d9d9" stroke-width="0.7"/>
<line x1="469.50" y1="748.50" x2="469.50" y2="888.80" stroke="#d9d9d9" stroke-width="0.7"/>
<line x1="522.90" y1="748.50" x2="522.90" y2="888.80" stroke="#d0d0d0" stroke-width="0.6"/>
<line x1="131.90" y1="753.25" x2="523.20" y2="753.25" stroke="#c0c0c0" stroke-width="0.8"/>
<path d="M136.0 750.5L139.1 753.2L136.0 756.0M142.0 750.5L145.1 753.2L142.0 756.0M148.1 750.5L151.2 753.2L148.1 756.0M154.1 750.5L157.2 753.2L154.1 756.0M160.2 750.5L163.3 753.2L160.2 756.0M166.2 750.5L169.3 753.2L166.2 756.0M172.2 750.5L175.3 753.2L172.2 756.0M178.3 750.5L181.4 753.2L178.3 756.0M184.3 750.5L187.4 753.2L184.3 756.0M190.4 750.5L193.5 753.2L190.4 756.0M196.4 750.5L199.5 753.2L196.4 756.0M202.4 750.5L205.5 753.2L202.4 756.0M208.5 750.5L211.6 753.2L208.5 756.0M214.5 750.5L217.6 753.2L214.5 756.0M220.6 750.5L223.7 753.2L220.6 756.0M226.6 750.5L229.7 753.2L226.6 756.0M232.6 750.5L235.7 753.2L232.6 756.0M238.7 750.5L241.8 753.2L238.7 756.0M244.7 750.5L247.8 753.2L244.7 756.0M250.8 750.5L253.9 753.2L250.8 756.0M256.8 750.5L259.9 753.2L256.8 756.0M262.8 750.5L265.9 753.2L262.8 756.0M268.9 750.5L272.0 753.2L268.9 756.0M274.9 750.5L278.0 753.2L274.9 756.0M281.0 750.5L284.1 753.2L281.0 756.0M287.0 750.5L290.1 753.2L287.0 756.0M293.0 750.5L296.1 753.2L293.0 756.0M299.1 750.5L302.2 753.2L299.1 756.0M305.1 750.5L308.2 753.2L305.1 756.0M311.2 750.5L314.3 753.2L311.2 756.0M317.2 750.5L320.3 753.2L317.2 756.0M323.2 750.5L326.3 753.2L323.2 756.0M329.3 750.5L332.4 753.2L329.3 756.0M335.3 750.5L338.4 753.2L335.3 756.0M341.4 750.5L344.5 753.2L341.4 756.0M347.4 750.5L350.5 753.2L347.4 756.0M353.4 750.5L356.5 753.2L353.4 756.0M359.5 750.5L362.6 753.2L359.5 756.0M365.5 750.5L368.6 753.2L365.5 756.0M371.6 750.5L374.7 753.2L371.6 756.0M377.6 750.5L380.7 753.2L377.6 756.0M383.6 750.5L386.7 753.2L383.6 756.0M389.7 750.5L392.8 753.2L389.7 756.0M395.7 750.5L398.8 753.2L395.7 756.0M401.8 750.5L404.9 753.2L401.8 756.0M407.8 750.5L410.9 753.2L407.8 756.0M413.8 750.5L416.9 753.2L413.8 756.0M419.9 750.5L423.0 753.2L419.9 756.0M425.9 750.5L429.0 753.2L425.9 756.0M432.0 750.5L435.1 753.2L432.0 756.0M438.0 750.5L441.1 753.2L438.0 756.0M444.0 750.5L447.1 753.2L444.0 756.0M450.1 750.5L453.2 753.2L450.1 756.0M456.1 750.5L459.2 753.2L456.1 756.0M473.9 750.5L477.0 753.2L473.9 756.0M479.9 750.5L483.0 753.2L479.9 756.0M486.0 750.5L489.1 753.2L486.0 756.0M492.0 750.5L495.1 753.2L492.0 756.0M498.1 750.5L501.2 753.2L498.1 756.0M504.1 750.5L507.2 753.2L504.1 756.0M510.1 750.5L513.2 753.2L510.1 756.0M516.2 750.5L519.3 753.2L516.2 756.0" fill="none" stroke="#b0b0b0" stroke-width="0.7"/>
<rect x="86.30" y="749.25" width="4.20" height="8.00" fill="#a9a9a9"/>
<rect x="523.20" y="750.65" width="4.60" height="5.20" fill="#a9a9a9"/>
<rect x="91.90" y="749.75" width="40.00" height="7.10" fill="#fff" stroke="#bcbcbc" stroke-width="0.6"/>
<text x="94.9" y="755.95" font-size="7.4" text-anchor="start" fill="#b7b7b7" font-weight="bold" textLength="34.1" lengthAdjust="spacingAndGlyphs" stroke="#b7b7b7" stroke-width="0.3">PCDHA1</text>
<line x1="148.80" y1="762.64" x2="523.20" y2="762.64" stroke="#c0c0c0" stroke-width="0.8"/>
<path d="M152.9 759.9L156.0 762.6L152.9 765.3M158.9 759.9L162.0 762.6L158.9 765.3M165.0 759.9L168.1 762.6L165.0 765.3M171.0 759.9L174.1 762.6L171.0 765.3M177.1 759.9L180.2 762.6L177.1 765.3M183.1 759.9L186.2 762.6L183.1 765.3M189.1 759.9L192.2 762.6L189.1 765.3M195.2 759.9L198.3 762.6L195.2 765.3M201.2 759.9L204.3 762.6L201.2 765.3M207.3 759.9L210.4 762.6L207.3 765.3M213.3 759.9L216.4 762.6L213.3 765.3M219.3 759.9L222.4 762.6L219.3 765.3M225.4 759.9L228.5 762.6L225.4 765.3M231.4 759.9L234.5 762.6L231.4 765.3M237.5 759.9L240.6 762.6L237.5 765.3M243.5 759.9L246.6 762.6L243.5 765.3M249.5 759.9L252.6 762.6L249.5 765.3M255.6 759.9L258.7 762.6L255.6 765.3M261.6 759.9L264.7 762.6L261.6 765.3M267.7 759.9L270.8 762.6L267.7 765.3M273.7 759.9L276.8 762.6L273.7 765.3M279.7 759.9L282.8 762.6L279.7 765.3M285.8 759.9L288.9 762.6L285.8 765.3M291.8 759.9L294.9 762.6L291.8 765.3M297.9 759.9L301.0 762.6L297.9 765.3M303.9 759.9L307.0 762.6L303.9 765.3M309.9 759.9L313.0 762.6L309.9 765.3M316.0 759.9L319.1 762.6L316.0 765.3M322.0 759.9L325.1 762.6L322.0 765.3M328.1 759.9L331.2 762.6L328.1 765.3M334.1 759.9L337.2 762.6L334.1 765.3M340.1 759.9L343.2 762.6L340.1 765.3M346.2 759.9L349.3 762.6L346.2 765.3M352.2 759.9L355.3 762.6L352.2 765.3M358.3 759.9L361.4 762.6L358.3 765.3M364.3 759.9L367.4 762.6L364.3 765.3M370.3 759.9L373.4 762.6L370.3 765.3M376.4 759.9L379.5 762.6L376.4 765.3M382.4 759.9L385.5 762.6L382.4 765.3M388.5 759.9L391.6 762.6L388.5 765.3M394.5 759.9L397.6 762.6L394.5 765.3M400.5 759.9L403.6 762.6L400.5 765.3M406.6 759.9L409.7 762.6L406.6 765.3M412.6 759.9L415.7 762.6L412.6 765.3M418.7 759.9L421.8 762.6L418.7 765.3M424.7 759.9L427.8 762.6L424.7 765.3M430.7 759.9L433.8 762.6L430.7 765.3M436.8 759.9L439.9 762.6L436.8 765.3M442.8 759.9L445.9 762.6L442.8 765.3M448.9 759.9L452.0 762.6L448.9 765.3M454.9 759.9L458.0 762.6L454.9 765.3M473.9 759.9L477.0 762.6L473.9 765.3M479.9 759.9L483.0 762.6L479.9 765.3M486.0 759.9L489.1 762.6L486.0 765.3M492.0 759.9L495.1 762.6L492.0 765.3M498.1 759.9L501.2 762.6L498.1 765.3M504.1 759.9L507.2 762.6L504.1 765.3M510.1 759.9L513.2 762.6L510.1 765.3M516.2 759.9L519.3 762.6L516.2 765.3" fill="none" stroke="#b0b0b0" stroke-width="0.7"/>
<rect x="103.30" y="758.64" width="4.20" height="8.00" fill="#a9a9a9"/>
<rect x="523.20" y="760.04" width="4.60" height="5.20" fill="#a9a9a9"/>
<rect x="108.90" y="759.14" width="39.90" height="7.10" fill="#fff" stroke="#bcbcbc" stroke-width="0.6"/>
<text x="111.9" y="765.34" font-size="7.4" text-anchor="start" fill="#b7b7b7" font-weight="bold" textLength="34.1" lengthAdjust="spacingAndGlyphs" stroke="#b7b7b7" stroke-width="0.3">PCDHA2</text>
<line x1="160.60" y1="772.03" x2="523.20" y2="772.03" stroke="#c0c0c0" stroke-width="0.8"/>
<path d="M164.7 769.3L167.8 772.0L164.7 774.7M170.7 769.3L173.8 772.0L170.7 774.7M176.8 769.3L179.9 772.0L176.8 774.7M182.8 769.3L185.9 772.0L182.8 774.7M188.9 769.3L192.0 772.0L188.9 774.7M194.9 769.3L198.0 772.0L194.9 774.7M200.9 769.3L204.0 772.0L200.9 774.7M207.0 769.3L210.1 772.0L207.0 774.7M213.0 769.3L216.1 772.0L213.0 774.7M219.1 769.3L222.2 772.0L219.1 774.7M225.1 769.3L228.2 772.0L225.1 774.7M231.1 769.3L234.2 772.0L231.1 774.7M237.2 769.3L240.3 772.0L237.2 774.7M243.2 769.3L246.3 772.0L243.2 774.7M249.3 769.3L252.4 772.0L249.3 774.7M255.3 769.3L258.4 772.0L255.3 774.7M261.3 769.3L264.4 772.0L261.3 774.7M267.4 769.3L270.5 772.0L267.4 774.7M273.4 769.3L276.5 772.0L273.4 774.7M279.5 769.3L282.6 772.0L279.5 774.7M285.5 769.3L288.6 772.0L285.5 774.7M291.5 769.3L294.6 772.0L291.5 774.7M297.6 769.3L300.7 772.0L297.6 774.7M303.6 769.3L306.7 772.0L303.6 774.7M309.7 769.3L312.8 772.0L309.7 774.7M315.7 769.3L318.8 772.0L315.7 774.7M321.7 769.3L324.8 772.0L321.7 774.7M327.8 769.3L330.9 772.0L327.8 774.7M333.8 769.3L336.9 772.0L333.8 774.7M339.9 769.3L343.0 772.0L339.9 774.7M345.9 769.3L349.0 772.0L345.9 774.7M351.9 769.3L355.0 772.0L351.9 774.7M358.0 769.3L361.1 772.0L358.0 774.7M364.0 769.3L367.1 772.0L364.0 774.7M370.1 769.3L373.2 772.0L370.1 774.7M376.1 769.3L379.2 772.0L376.1 774.7M382.1 769.3L385.2 772.0L382.1 774.7M388.2 769.3L391.3 772.0L388.2 774.7M394.2 769.3L397.3 772.0L394.2 774.7M400.3 769.3L403.4 772.0L400.3 774.7M406.3 769.3L409.4 772.0L406.3 774.7M412.3 769.3L415.4 772.0L412.3 774.7M418.4 769.3L421.5 772.0L418.4 774.7M424.4 769.3L427.5 772.0L424.4 774.7M430.5 769.3L433.6 772.0L430.5 774.7M436.5 769.3L439.6 772.0L436.5 774.7M442.5 769.3L445.6 772.0L442.5 774.7M448.6 769.3L451.7 772.0L448.6 774.7M454.6 769.3L457.7 772.0L454.6 774.7M473.9 769.3L477.0 772.0L473.9 774.7M479.9 769.3L483.0 772.0L479.9 774.7M486.0 769.3L489.1 772.0L486.0 774.7M492.0 769.3L495.1 772.0L492.0 774.7M498.1 769.3L501.2 772.0L498.1 774.7M504.1 769.3L507.2 772.0L504.1 774.7M510.1 769.3L513.2 772.0L510.1 774.7M516.2 769.3L519.3 772.0L516.2 774.7" fill="none" stroke="#b0b0b0" stroke-width="0.7"/>
<rect x="115.40" y="768.03" width="4.00" height="8.00" fill="#a9a9a9"/>
<rect x="523.20" y="769.43" width="4.60" height="5.20" fill="#a9a9a9"/>
<rect x="121.00" y="768.53" width="39.60" height="7.10" fill="#fff" stroke="#bcbcbc" stroke-width="0.6"/>
<text x="124.0" y="774.73" font-size="7.4" text-anchor="start" fill="#b7b7b7" font-weight="bold" textLength="34.0" lengthAdjust="spacingAndGlyphs" stroke="#b7b7b7" stroke-width="0.3">PCDHA3</text>
<line x1="131.30" y1="781.42" x2="523.20" y2="781.42" stroke="#c0c0c0" stroke-width="0.8"/>
<path d="M133.8 778.7L136.9 781.4L133.8 784.1M139.8 778.7L142.9 781.4L139.8 784.1M145.9 778.7L149.0 781.4L145.9 784.1M151.9 778.7L155.0 781.4L151.9 784.1M158.0 778.7L161.1 781.4L158.0 784.1M164.0 778.7L167.1 781.4L164.0 784.1M170.0 778.7L173.1 781.4L170.0 784.1M176.1 778.7L179.2 781.4L176.1 784.1M182.1 778.7L185.2 781.4L182.1 784.1M188.2 778.7L191.3 781.4L188.2 784.1M194.2 778.7L197.3 781.4L194.2 784.1M200.2 778.7L203.3 781.4L200.2 784.1M206.3 778.7L209.4 781.4L206.3 784.1M212.3 778.7L215.4 781.4L212.3 784.1M218.4 778.7L221.5 781.4L218.4 784.1M224.4 778.7L227.5 781.4L224.4 784.1M230.4 778.7L233.5 781.4L230.4 784.1M236.5 778.7L239.6 781.4L236.5 784.1M242.5 778.7L245.6 781.4L242.5 784.1M248.6 778.7L251.7 781.4L248.6 784.1M254.6 778.7L257.7 781.4L254.6 784.1M260.6 778.7L263.7 781.4L260.6 784.1M266.7 778.7L269.8 781.4L266.7 784.1M272.7 778.7L275.8 781.4L272.7 784.1M278.8 778.7L281.9 781.4L278.8 784.1M284.8 778.7L287.9 781.4L284.8 784.1M290.8 778.7L293.9 781.4L290.8 784.1M296.9 778.7L300.0 781.4L296.9 784.1M302.9 778.7L306.0 781.4L302.9 784.1M309.0 778.7L312.1 781.4L309.0 784.1M315.0 778.7L318.1 781.4L315.0 784.1M321.0 778.7L324.1 781.4L321.0 784.1M327.1 778.7L330.2 781.4L327.1 784.1M333.1 778.7L336.2 781.4L333.1 784.1M339.2 778.7L342.3 781.4L339.2 784.1M345.2 778.7L348.3 781.4L345.2 784.1M351.2 778.7L354.3 781.4L351.2 784.1M357.3 778.7L360.4 781.4L357.3 784.1M363.3 778.7L366.4 781.4L363.3 784.1M369.4 778.7L372.5 781.4L369.4 784.1M375.4 778.7L378.5 781.4L375.4 784.1M381.4 778.7L384.5 781.4L381.4 784.1M387.5 778.7L390.6 781.4L387.5 784.1M393.5 778.7L396.6 781.4L393.5 784.1M399.6 778.7L402.7 781.4L399.6 784.1M405.6 778.7L408.7 781.4L405.6 784.1M411.6 778.7L414.7 781.4L411.6 784.1M417.7 778.7L420.8 781.4L417.7 784.1M423.7 778.7L426.8 781.4L423.7 784.1M429.8 778.7L432.9 781.4L429.8 784.1M435.8 778.7L438.9 781.4L435.8 784.1M441.8 778.7L444.9 781.4L441.8 784.1M447.9 778.7L451.0 781.4L447.9 784.1M453.9 778.7L457.0 781.4L453.9 784.1M473.9 778.7L477.0 781.4L473.9 784.1M479.9 778.7L483.0 781.4L479.9 784.1M486.0 778.7L489.1 781.4L486.0 784.1M492.0 778.7L495.1 781.4L492.0 784.1M498.1 778.7L501.2 781.4L498.1 784.1M504.1 778.7L507.2 781.4L504.1 784.1M510.1 778.7L513.2 781.4L510.1 784.1M516.2 778.7L519.3 781.4L516.2 784.1" fill="none" stroke="#b0b0b0" stroke-width="0.7"/>
<rect x="127.20" y="777.42" width="4.10" height="8.00" fill="#a9a9a9"/>
<rect x="523.20" y="778.82" width="4.60" height="5.20" fill="#a9a9a9"/>
<text x="91.0" y="784.12" font-size="7.4" text-anchor="start" fill="#b7b7b7" font-weight="bold" textLength="34.7" lengthAdjust="spacingAndGlyphs" stroke="#b7b7b7" stroke-width="0.3">PCDHA4</text>
<line x1="160.00" y1="790.81" x2="523.20" y2="790.81" stroke="#c0c0c0" stroke-width="0.8"/>
<path d="M162.5 788.1L165.6 790.8L162.5 793.5M168.5 788.1L171.6 790.8L168.5 793.5M174.6 788.1L177.7 790.8L174.6 793.5M180.6 788.1L183.7 790.8L180.6 793.5M186.7 788.1L189.8 790.8L186.7 793.5M192.7 788.1L195.8 790.8L192.7 793.5M198.7 788.1L201.8 790.8L198.7 793.5M204.8 788.1L207.9 790.8L204.8 793.5M210.8 788.1L213.9 790.8L210.8 793.5M216.9 788.1L220.0 790.8L216.9 793.5M222.9 788.1L226.0 790.8L222.9 793.5M228.9 788.1L232.0 790.8L228.9 793.5M235.0 788.1L238.1 790.8L235.0 793.5M241.0 788.1L244.1 790.8L241.0 793.5M247.1 788.1L250.2 790.8L247.1 793.5M253.1 788.1L256.2 790.8L253.1 793.5M259.1 788.1L262.2 790.8L259.1 793.5M265.2 788.1L268.3 790.8L265.2 793.5M271.2 788.1L274.3 790.8L271.2 793.5M277.3 788.1L280.4 790.8L277.3 793.5M283.3 788.1L286.4 790.8L283.3 793.5M289.3 788.1L292.4 790.8L289.3 793.5M295.4 788.1L298.5 790.8L295.4 793.5M301.4 788.1L304.5 790.8L301.4 793.5M307.5 788.1L310.6 790.8L307.5 793.5M313.5 788.1L316.6 790.8L313.5 793.5M319.5 788.1L322.6 790.8L319.5 793.5M325.6 788.1L328.7 790.8L325.6 793.5M331.6 788.1L334.7 790.8L331.6 793.5M337.7 788.1L340.8 790.8L337.7 793.5M343.7 788.1L346.8 790.8L343.7 793.5M349.7 788.1L352.8 790.8L349.7 793.5M355.8 788.1L358.9 790.8L355.8 793.5M361.8 788.1L364.9 790.8L361.8 793.5M367.9 788.1L371.0 790.8L367.9 793.5M373.9 788.1L377.0 790.8L373.9 793.5M379.9 788.1L383.0 790.8L379.9 793.5M386.0 788.1L389.1 790.8L386.0 793.5M392.0 788.1L395.1 790.8L392.0 793.5M398.1 788.1L401.2 790.8L398.1 793.5M404.1 788.1L407.2 790.8L404.1 793.5M410.1 788.1L413.2 790.8L410.1 793.5M416.2 788.1L419.3 790.8L416.2 793.5M422.2 788.1L425.3 790.8L422.2 793.5M428.3 788.1L431.4 790.8L428.3 793.5M434.3 788.1L437.4 790.8L434.3 793.5M440.3 788.1L443.4 790.8L440.3 793.5M446.4 788.1L449.5 790.8L446.4 793.5M452.4 788.1L455.5 790.8L452.4 793.5M473.9 788.1L477.0 790.8L473.9 793.5M479.9 788.1L483.0 790.8L479.9 793.5M486.0 788.1L489.1 790.8L486.0 793.5M492.0 788.1L495.1 790.8L492.0 793.5M498.1 788.1L501.2 790.8L498.1 793.5M504.1 788.1L507.2 790.8L504.1 793.5M510.1 788.1L513.2 790.8L510.1 793.5M516.2 788.1L519.3 790.8L516.2 793.5" fill="none" stroke="#b0b0b0" stroke-width="0.7"/>
<rect x="155.70" y="786.81" width="4.30" height="8.00" fill="#a9a9a9"/>
<rect x="523.20" y="788.21" width="4.60" height="5.20" fill="#a9a9a9"/>
<text x="119.2" y="793.51" font-size="7.4" text-anchor="start" fill="#b7b7b7" font-weight="bold" textLength="34.7" lengthAdjust="spacingAndGlyphs" stroke="#b7b7b7" stroke-width="0.3">PCDHA5</text>
<line x1="172.10" y1="800.20" x2="523.20" y2="800.20" stroke="#c0c0c0" stroke-width="0.8"/>
<path d="M174.6 797.5L177.7 800.2L174.6 802.9M180.6 797.5L183.7 800.2L180.6 802.9M186.7 797.5L189.8 800.2L186.7 802.9M192.7 797.5L195.8 800.2L192.7 802.9M198.8 797.5L201.9 800.2L198.8 802.9M204.8 797.5L207.9 800.2L204.8 802.9M210.8 797.5L213.9 800.2L210.8 802.9M216.9 797.5L220.0 800.2L216.9 802.9M222.9 797.5L226.0 800.2L222.9 802.9M229.0 797.5L232.1 800.2L229.0 802.9M235.0 797.5L238.1 800.2L235.0 802.9M241.0 797.5L244.1 800.2L241.0 802.9M247.1 797.5L250.2 800.2L247.1 802.9M253.1 797.5L256.2 800.2L253.1 802.9M259.2 797.5L262.3 800.2L259.2 802.9M265.2 797.5L268.3 800.2L265.2 802.9M271.2 797.5L274.3 800.2L271.2 802.9M277.3 797.5L280.4 800.2L277.3 802.9M283.3 797.5L286.4 800.2L283.3 802.9M289.4 797.5L292.5 800.2L289.4 802.9M295.4 797.5L298.5 800.2L295.4 802.9M301.4 797.5L304.5 800.2L301.4 802.9M307.5 797.5L310.6 800.2L307.5 802.9M313.5 797.5L316.6 800.2L313.5 802.9M319.6 797.5L322.7 800.2L319.6 802.9M325.6 797.5L328.7 800.2L325.6 802.9M331.6 797.5L334.7 800.2L331.6 802.9M337.7 797.5L340.8 800.2L337.7 802.9M343.7 797.5L346.8 800.2L343.7 802.9M349.8 797.5L352.9 800.2L349.8 802.9M355.8 797.5L358.9 800.2L355.8 802.9M361.8 797.5L364.9 800.2L361.8 802.9M367.9 797.5L371.0 800.2L367.9 802.9M373.9 797.5L377.0 800.2L373.9 802.9M380.0 797.5L383.1 800.2L380.0 802.9M386.0 797.5L389.1 800.2L386.0 802.9M392.0 797.5L395.1 800.2L392.0 802.9M398.1 797.5L401.2 800.2L398.1 802.9M404.1 797.5L407.2 800.2L404.1 802.9M410.2 797.5L413.3 800.2L410.2 802.9M416.2 797.5L419.3 800.2L416.2 802.9M422.2 797.5L425.3 800.2L422.2 802.9M428.3 797.5L431.4 800.2L428.3 802.9M434.3 797.5L437.4 800.2L434.3 802.9M440.4 797.5L443.5 800.2L440.4 802.9M446.4 797.5L449.5 800.2L446.4 802.9M452.4 797.5L455.5 800.2L452.4 802.9M473.9 797.5L477.0 800.2L473.9 802.9M479.9 797.5L483.0 800.2L479.9 802.9M486.0 797.5L489.1 800.2L486.0 802.9M492.0 797.5L495.1 800.2L492.0 802.9M498.1 797.5L501.2 800.2L498.1 802.9M504.1 797.5L507.2 800.2L504.1 802.9M510.1 797.5L513.2 800.2L510.1 802.9M516.2 797.5L519.3 800.2L516.2 802.9" fill="none" stroke="#b0b0b0" stroke-width="0.7"/>
<rect x="167.90" y="796.20" width="4.20" height="8.00" fill="#a9a9a9"/>
<rect x="523.20" y="797.60" width="4.60" height="5.20" fill="#a9a9a9"/>
<text x="131.3" y="802.9000000000001" font-size="7.4" text-anchor="start" fill="#b7b7b7" font-weight="bold" textLength="34.8" lengthAdjust="spacingAndGlyphs" stroke="#b7b7b7" stroke-width="0.3">PCDHA6</text>
<line x1="184.60" y1="809.59" x2="523.20" y2="809.59" stroke="#c0c0c0" stroke-width="0.8"/>
<path d="M187.1 806.9L190.2 809.6L187.1 812.3M193.1 806.9L196.2 809.6L193.1 812.3M199.2 806.9L202.3 809.6L199.2 812.3M205.2 806.9L208.3 809.6L205.2 812.3M211.3 806.9L214.4 809.6L211.3 812.3M217.3 806.9L220.4 809.6L217.3 812.3M223.3 806.9L226.4 809.6L223.3 812.3M229.4 806.9L232.5 809.6L229.4 812.3M235.4 806.9L238.5 809.6L235.4 812.3M241.5 806.9L244.6 809.6L241.5 812.3M247.5 806.9L250.6 809.6L247.5 812.3M253.5 806.9L256.6 809.6L253.5 812.3M259.6 806.9L262.7 809.6L259.6 812.3M265.6 806.9L268.7 809.6L265.6 812.3M271.7 806.9L274.8 809.6L271.7 812.3M277.7 806.9L280.8 809.6L277.7 812.3M283.7 806.9L286.8 809.6L283.7 812.3M289.8 806.9L292.9 809.6L289.8 812.3M295.8 806.9L298.9 809.6L295.8 812.3M301.9 806.9L305.0 809.6L301.9 812.3M307.9 806.9L311.0 809.6L307.9 812.3M313.9 806.9L317.0 809.6L313.9 812.3M320.0 806.9L323.1 809.6L320.0 812.3M326.0 806.9L329.1 809.6L326.0 812.3M332.1 806.9L335.2 809.6L332.1 812.3M338.1 806.9L341.2 809.6L338.1 812.3M344.1 806.9L347.2 809.6L344.1 812.3M350.2 806.9L353.3 809.6L350.2 812.3M356.2 806.9L359.3 809.6L356.2 812.3M362.3 806.9L365.4 809.6L362.3 812.3M368.3 806.9L371.4 809.6L368.3 812.3M374.3 806.9L377.4 809.6L374.3 812.3M380.4 806.9L383.5 809.6L380.4 812.3M386.4 806.9L389.5 809.6L386.4 812.3M392.5 806.9L395.6 809.6L392.5 812.3M398.5 806.9L401.6 809.6L398.5 812.3M404.5 806.9L407.6 809.6L404.5 812.3M410.6 806.9L413.7 809.6L410.6 812.3M416.6 806.9L419.7 809.6L416.6 812.3M422.7 806.9L425.8 809.6L422.7 812.3M428.7 806.9L431.8 809.6L428.7 812.3M434.7 806.9L437.8 809.6L434.7 812.3M440.8 806.9L443.9 809.6L440.8 812.3M446.8 806.9L449.9 809.6L446.8 812.3M452.9 806.9L456.0 809.6L452.9 812.3M473.9 806.9L477.0 809.6L473.9 812.3M479.9 806.9L483.0 809.6L479.9 812.3M486.0 806.9L489.1 809.6L486.0 812.3M492.0 806.9L495.1 809.6L492.0 812.3M498.1 806.9L501.2 809.6L498.1 812.3M504.1 806.9L507.2 809.6L504.1 812.3M510.1 806.9L513.2 809.6L510.1 812.3M516.2 806.9L519.3 809.6L516.2 812.3" fill="none" stroke="#b0b0b0" stroke-width="0.7"/>
<rect x="180.40" y="805.59" width="4.20" height="8.00" fill="#a9a9a9"/>
<rect x="523.20" y="806.99" width="4.60" height="5.20" fill="#a9a9a9"/>
<text x="144.0" y="812.2900000000001" font-size="7.4" text-anchor="start" fill="#b7b7b7" font-weight="bold" textLength="34.3" lengthAdjust="spacingAndGlyphs" stroke="#b7b7b7" stroke-width="0.3">PCDHA7</text>
<line x1="197.80" y1="818.98" x2="523.20" y2="818.98" stroke="#c0c0c0" stroke-width="0.8"/>
<path d="M200.3 816.3L203.4 819.0L200.3 821.7M206.3 816.3L209.4 819.0L206.3 821.7M212.4 816.3L215.5 819.0L212.4 821.7M218.4 816.3L221.5 819.0L218.4 821.7M224.5 816.3L227.6 819.0L224.5 821.7M230.5 816.3L233.6 819.0L230.5 821.7M236.5 816.3L239.6 819.0L236.5 821.7M242.6 816.3L245.7 819.0L242.6 821.7M248.6 816.3L251.7 819.0L248.6 821.7M254.7 816.3L257.8 819.0L254.7 821.7M260.7 816.3L263.8 819.0L260.7 821.7M266.7 816.3L269.8 819.0L266.7 821.7M272.8 816.3L275.9 819.0L272.8 821.7M278.8 816.3L281.9 819.0L278.8 821.7M284.9 816.3L288.0 819.0L284.9 821.7M290.9 816.3L294.0 819.0L290.9 821.7M296.9 816.3L300.0 819.0L296.9 821.7M303.0 816.3L306.1 819.0L303.0 821.7M309.0 816.3L312.1 819.0L309.0 821.7M315.1 816.3L318.2 819.0L315.1 821.7M321.1 816.3L324.2 819.0L321.1 821.7M327.1 816.3L330.2 819.0L327.1 821.7M333.2 816.3L336.3 819.0L333.2 821.7M339.2 816.3L342.3 819.0L339.2 821.7M345.3 816.3L348.4 819.0L345.3 821.7M351.3 816.3L354.4 819.0L351.3 821.7M357.3 816.3L360.4 819.0L357.3 821.7M363.4 816.3L366.5 819.0L363.4 821.7M369.4 816.3L372.5 819.0L369.4 821.7M375.5 816.3L378.6 819.0L375.5 821.7M381.5 816.3L384.6 819.0L381.5 821.7M387.5 816.3L390.6 819.0L387.5 821.7M393.6 816.3L396.7 819.0L393.6 821.7M399.6 816.3L402.7 819.0L399.6 821.7M405.7 816.3L408.8 819.0L405.7 821.7M411.7 816.3L414.8 819.0L411.7 821.7M417.7 816.3L420.8 819.0L417.7 821.7M423.8 816.3L426.9 819.0L423.8 821.7M429.8 816.3L432.9 819.0L429.8 821.7M435.9 816.3L439.0 819.0L435.9 821.7M441.9 816.3L445.0 819.0L441.9 821.7M447.9 816.3L451.0 819.0L447.9 821.7M454.0 816.3L457.1 819.0L454.0 821.7M473.9 816.3L477.0 819.0L473.9 821.7M479.9 816.3L483.0 819.0L479.9 821.7M486.0 816.3L489.1 819.0L486.0 821.7M492.0 816.3L495.1 819.0L492.0 821.7M498.1 816.3L501.2 819.0L498.1 821.7M504.1 816.3L507.2 819.0L504.1 821.7M510.1 816.3L513.2 819.0L510.1 821.7M516.2 816.3L519.3 819.0L516.2 821.7" fill="none" stroke="#b0b0b0" stroke-width="0.7"/>
<rect x="194.00" y="814.98" width="3.80" height="8.00" fill="#a9a9a9"/>
<rect x="523.20" y="816.38" width="4.60" height="5.20" fill="#a9a9a9"/>
<text x="157.3" y="821.6800000000001" font-size="7.4" text-anchor="start" fill="#b7b7b7" font-weight="bold" textLength="34.7" lengthAdjust="spacingAndGlyphs" stroke="#b7b7b7" stroke-width="0.3">PCDHA8</text>
<line x1="211.90" y1="828.37" x2="523.20" y2="828.37" stroke="#c0c0c0" stroke-width="0.8"/>
<path d="M214.4 825.7L217.5 828.4L214.4 831.1M220.4 825.7L223.5 828.4L220.4 831.1M226.5 825.7L229.6 828.4L226.5 831.1M232.5 825.7L235.6 828.4L232.5 831.1M238.6 825.7L241.7 828.4L238.6 831.1M244.6 825.7L247.7 828.4L244.6 831.1M250.6 825.7L253.7 828.4L250.6 831.1M256.7 825.7L259.8 828.4L256.7 831.1M262.7 825.7L265.8 828.4L262.7 831.1M268.8 825.7L271.9 828.4L268.8 831.1M274.8 825.7L277.9 828.4L274.8 831.1M280.8 825.7L283.9 828.4L280.8 831.1M286.9 825.7L290.0 828.4L286.9 831.1M292.9 825.7L296.0 828.4L292.9 831.1M299.0 825.7L302.1 828.4L299.0 831.1M305.0 825.7L308.1 828.4L305.0 831.1M311.0 825.7L314.1 828.4L311.0 831.1M317.1 825.7L320.2 828.4L317.1 831.1M323.1 825.7L326.2 828.4L323.1 831.1M329.2 825.7L332.3 828.4L329.2 831.1M335.2 825.7L338.3 828.4L335.2 831.1M341.2 825.7L344.3 828.4L341.2 831.1M347.3 825.7L350.4 828.4L347.3 831.1M353.3 825.7L356.4 828.4L353.3 831.1M359.4 825.7L362.5 828.4L359.4 831.1M365.4 825.7L368.5 828.4L365.4 831.1M371.4 825.7L374.5 828.4L371.4 831.1M377.5 825.7L380.6 828.4L377.5 831.1M383.5 825.7L386.6 828.4L383.5 831.1M389.6 825.7L392.7 828.4L389.6 831.1M395.6 825.7L398.7 828.4L395.6 831.1M401.6 825.7L404.7 828.4L401.6 831.1M407.7 825.7L410.8 828.4L407.7 831.1M413.7 825.7L416.8 828.4L413.7 831.1M419.8 825.7L422.9 828.4L419.8 831.1M425.8 825.7L428.9 828.4L425.8 831.1M431.8 825.7L434.9 828.4L431.8 831.1M437.9 825.7L441.0 828.4L437.9 831.1M443.9 825.7L447.0 828.4L443.9 831.1M450.0 825.7L453.1 828.4L450.0 831.1M456.0 825.7L459.1 828.4L456.0 831.1M473.9 825.7L477.0 828.4L473.9 831.1M479.9 825.7L483.0 828.4L479.9 831.1M486.0 825.7L489.1 828.4L486.0 831.1M492.0 825.7L495.1 828.4L492.0 831.1M498.1 825.7L501.2 828.4L498.1 831.1M504.1 825.7L507.2 828.4L504.1 831.1M510.1 825.7L513.2 828.4L510.1 831.1M516.2 825.7L519.3 828.4L516.2 831.1" fill="none" stroke="#b0b0b0" stroke-width="0.7"/>
<rect x="207.90" y="824.37" width="4.00" height="8.00" fill="#a9a9a9"/>
<rect x="523.20" y="825.77" width="4.60" height="5.20" fill="#a9a9a9"/>
<text x="171.7" y="831.07" font-size="7.4" text-anchor="start" fill="#b7b7b7" font-weight="bold" textLength="34.2" lengthAdjust="spacingAndGlyphs" stroke="#b7b7b7" stroke-width="0.3">PCDHA9</text>
<line x1="226.80" y1="837.76" x2="523.20" y2="837.76" stroke="#c0c0c0" stroke-width="0.8"/>
<path d="M229.3 835.1L232.4 837.8L229.3 840.5M235.3 835.1L238.4 837.8L235.3 840.5M241.4 835.1L244.5 837.8L241.4 840.5M247.4 835.1L250.5 837.8L247.4 840.5M253.5 835.1L256.6 837.8L253.5 840.5M259.5 835.1L262.6 837.8L259.5 840.5M265.5 835.1L268.6 837.8L265.5 840.5M271.6 835.1L274.7 837.8L271.6 840.5M277.6 835.1L280.7 837.8L277.6 840.5M283.7 835.1L286.8 837.8L283.7 840.5M289.7 835.1L292.8 837.8L289.7 840.5M295.7 835.1L298.8 837.8L295.7 840.5M301.8 835.1L304.9 837.8L301.8 840.5M307.8 835.1L310.9 837.8L307.8 840.5M313.9 835.1L317.0 837.8L313.9 840.5M319.9 835.1L323.0 837.8L319.9 840.5M325.9 835.1L329.0 837.8L325.9 840.5M332.0 835.1L335.1 837.8L332.0 840.5M338.0 835.1L341.1 837.8L338.0 840.5M344.1 835.1L347.2 837.8L344.1 840.5M350.1 835.1L353.2 837.8L350.1 840.5M356.1 835.1L359.2 837.8L356.1 840.5M362.2 835.1L365.3 837.8L362.2 840.5M368.2 835.1L371.3 837.8L368.2 840.5M374.3 835.1L377.4 837.8L374.3 840.5M380.3 835.1L383.4 837.8L380.3 840.5M386.3 835.1L389.4 837.8L386.3 840.5M392.4 835.1L395.5 837.8L392.4 840.5M398.4 835.1L401.5 837.8L398.4 840.5M404.5 835.1L407.6 837.8L404.5 840.5M410.5 835.1L413.6 837.8L410.5 840.5M416.5 835.1L419.6 837.8L416.5 840.5M422.6 835.1L425.7 837.8L422.6 840.5M428.6 835.1L431.7 837.8L428.6 840.5M434.7 835.1L437.8 837.8L434.7 840.5M440.7 835.1L443.8 837.8L440.7 840.5M446.7 835.1L449.8 837.8L446.7 840.5M452.8 835.1L455.9 837.8L452.8 840.5M473.9 835.1L477.0 837.8L473.9 840.5M479.9 835.1L483.0 837.8L479.9 840.5M486.0 835.1L489.1 837.8L486.0 840.5M492.0 835.1L495.1 837.8L492.0 840.5M498.1 835.1L501.2 837.8L498.1 840.5M504.1 835.1L507.2 837.8L504.1 840.5M510.1 835.1L513.2 837.8L510.1 840.5M516.2 835.1L519.3 837.8L516.2 840.5" fill="none" stroke="#b0b0b0" stroke-width="0.7"/>
<rect x="222.80" y="833.76" width="4.00" height="8.00" fill="#a9a9a9"/>
<rect x="523.20" y="835.16" width="4.60" height="5.20" fill="#a9a9a9"/>
<text x="180.4" y="840.46" font-size="7.4" text-anchor="start" fill="#b7b7b7" font-weight="bold" textLength="40.7" lengthAdjust="spacingAndGlyphs" stroke="#b7b7b7" stroke-width="0.3">PCDHA10</text>
<line x1="252.30" y1="847.15" x2="523.20" y2="847.15" stroke="#c0c0c0" stroke-width="0.8"/>
<path d="M254.8 844.4L257.9 847.1L254.8 849.9M260.8 844.4L263.9 847.1L260.8 849.9M266.9 844.4L270.0 847.1L266.9 849.9M272.9 844.4L276.0 847.1L272.9 849.9M279.0 844.4L282.1 847.1L279.0 849.9M285.0 844.4L288.1 847.1L285.0 849.9M291.0 844.4L294.1 847.1L291.0 849.9M297.1 844.4L300.2 847.1L297.1 849.9M303.1 844.4L306.2 847.1L303.1 849.9M309.2 844.4L312.3 847.1L309.2 849.9M315.2 844.4L318.3 847.1L315.2 849.9M321.2 844.4L324.3 847.1L321.2 849.9M327.3 844.4L330.4 847.1L327.3 849.9M333.3 844.4L336.4 847.1L333.3 849.9M339.4 844.4L342.5 847.1L339.4 849.9M345.4 844.4L348.5 847.1L345.4 849.9M351.4 844.4L354.5 847.1L351.4 849.9M357.5 844.4L360.6 847.1L357.5 849.9M363.5 844.4L366.6 847.1L363.5 849.9M369.6 844.4L372.7 847.1L369.6 849.9M375.6 844.4L378.7 847.1L375.6 849.9M381.6 844.4L384.7 847.1L381.6 849.9M387.7 844.4L390.8 847.1L387.7 849.9M393.7 844.4L396.8 847.1L393.7 849.9M399.8 844.4L402.9 847.1L399.8 849.9M405.8 844.4L408.9 847.1L405.8 849.9M411.8 844.4L414.9 847.1L411.8 849.9M417.9 844.4L421.0 847.1L417.9 849.9M423.9 844.4L427.0 847.1L423.9 849.9M430.0 844.4L433.1 847.1L430.0 849.9M436.0 844.4L439.1 847.1L436.0 849.9M442.0 844.4L445.1 847.1L442.0 849.9M448.1 844.4L451.2 847.1L448.1 849.9M454.1 844.4L457.2 847.1L454.1 849.9M473.9 844.4L477.0 847.1L473.9 849.9M479.9 844.4L483.0 847.1L479.9 849.9M486.0 844.4L489.1 847.1L486.0 849.9M492.0 844.4L495.1 847.1L492.0 849.9M498.1 844.4L501.2 847.1L498.1 849.9M504.1 844.4L507.2 847.1L504.1 849.9M510.1 844.4L513.2 847.1L510.1 849.9M516.2 844.4L519.3 847.1L516.2 849.9" fill="none" stroke="#b0b0b0" stroke-width="0.7"/>
<rect x="248.40" y="843.15" width="3.90" height="8.00" fill="#a9a9a9"/>
<rect x="523.20" y="844.55" width="4.60" height="5.20" fill="#a9a9a9"/>
<text x="205.7" y="849.85" font-size="7.4" text-anchor="start" fill="#b7b7b7" font-weight="bold" textLength="40.4" lengthAdjust="spacingAndGlyphs" stroke="#b7b7b7" stroke-width="0.3">PCDHA11</text>
<line x1="265.20" y1="856.54" x2="523.20" y2="856.54" stroke="#c0c0c0" stroke-width="0.8"/>
<path d="M267.7 853.8L270.8 856.5L267.7 859.2M273.7 853.8L276.8 856.5L273.7 859.2M279.8 853.8L282.9 856.5L279.8 859.2M285.8 853.8L288.9 856.5L285.8 859.2M291.9 853.8L295.0 856.5L291.9 859.2M297.9 853.8L301.0 856.5L297.9 859.2M303.9 853.8L307.0 856.5L303.9 859.2M310.0 853.8L313.1 856.5L310.0 859.2M316.0 853.8L319.1 856.5L316.0 859.2M322.1 853.8L325.2 856.5L322.1 859.2M328.1 853.8L331.2 856.5L328.1 859.2M334.1 853.8L337.2 856.5L334.1 859.2M340.2 853.8L343.3 856.5L340.2 859.2M346.2 853.8L349.3 856.5L346.2 859.2M352.3 853.8L355.4 856.5L352.3 859.2M358.3 853.8L361.4 856.5L358.3 859.2M364.3 853.8L367.4 856.5L364.3 859.2M370.4 853.8L373.5 856.5L370.4 859.2M376.4 853.8L379.5 856.5L376.4 859.2M382.5 853.8L385.6 856.5L382.5 859.2M388.5 853.8L391.6 856.5L388.5 859.2M394.5 853.8L397.6 856.5L394.5 859.2M400.6 853.8L403.7 856.5L400.6 859.2M406.6 853.8L409.7 856.5L406.6 859.2M412.7 853.8L415.8 856.5L412.7 859.2M418.7 853.8L421.8 856.5L418.7 859.2M424.7 853.8L427.8 856.5L424.7 859.2M430.8 853.8L433.9 856.5L430.8 859.2M436.8 853.8L439.9 856.5L436.8 859.2M442.9 853.8L446.0 856.5L442.9 859.2M448.9 853.8L452.0 856.5L448.9 859.2M454.9 853.8L458.0 856.5L454.9 859.2M473.9 853.8L477.0 856.5L473.9 859.2M479.9 853.8L483.0 856.5L479.9 859.2M486.0 853.8L489.1 856.5L486.0 859.2M492.0 853.8L495.1 856.5L492.0 859.2M498.1 853.8L501.2 856.5L498.1 859.2M504.1 853.8L507.2 856.5L504.1 859.2M510.1 853.8L513.2 856.5L510.1 859.2M516.2 853.8L519.3 856.5L516.2 859.2" fill="none" stroke="#b0b0b0" stroke-width="0.7"/>
<rect x="261.00" y="852.54" width="4.20" height="8.00" fill="#a9a9a9"/>
<rect x="523.20" y="853.94" width="4.60" height="5.20" fill="#a9a9a9"/>
<text x="218.6" y="859.24" font-size="7.4" text-anchor="start" fill="#b7b7b7" font-weight="bold" textLength="40.4" lengthAdjust="spacingAndGlyphs" stroke="#b7b7b7" stroke-width="0.3">PCDHA12</text>
<line x1="278.10" y1="865.93" x2="523.20" y2="865.93" stroke="#c0c0c0" stroke-width="0.8"/>
<path d="M280.6 863.2L283.7 865.9L280.6 868.6M286.6 863.2L289.7 865.9L286.6 868.6M292.7 863.2L295.8 865.9L292.7 868.6M298.7 863.2L301.8 865.9L298.7 868.6M304.8 863.2L307.9 865.9L304.8 868.6M310.8 863.2L313.9 865.9L310.8 868.6M316.8 863.2L319.9 865.9L316.8 868.6M322.9 863.2L326.0 865.9L322.9 868.6M328.9 863.2L332.0 865.9L328.9 868.6M335.0 863.2L338.1 865.9L335.0 868.6M341.0 863.2L344.1 865.9L341.0 868.6M347.0 863.2L350.1 865.9L347.0 868.6M353.1 863.2L356.2 865.9L353.1 868.6M359.1 863.2L362.2 865.9L359.1 868.6M365.2 863.2L368.3 865.9L365.2 868.6M371.2 863.2L374.3 865.9L371.2 868.6M377.2 863.2L380.3 865.9L377.2 868.6M383.3 863.2L386.4 865.9L383.3 868.6M389.3 863.2L392.4 865.9L389.3 868.6M395.4 863.2L398.5 865.9L395.4 868.6M401.4 863.2L404.5 865.9L401.4 868.6M407.4 863.2L410.5 865.9L407.4 868.6M413.5 863.2L416.6 865.9L413.5 868.6M419.5 863.2L422.6 865.9L419.5 868.6M425.6 863.2L428.7 865.9L425.6 868.6M431.6 863.2L434.7 865.9L431.6 868.6M437.6 863.2L440.7 865.9L437.6 868.6M443.7 863.2L446.8 865.9L443.7 868.6M449.7 863.2L452.8 865.9L449.7 868.6M455.8 863.2L458.9 865.9L455.8 868.6M473.9 863.2L477.0 865.9L473.9 868.6M479.9 863.2L483.0 865.9L479.9 868.6M486.0 863.2L489.1 865.9L486.0 868.6M492.0 863.2L495.1 865.9L492.0 868.6M498.1 863.2L501.2 865.9L498.1 868.6M504.1 863.2L507.2 865.9L504.1 868.6M510.1 863.2L513.2 865.9L510.1 868.6M516.2 863.2L519.3 865.9L516.2 868.6" fill="none" stroke="#b0b0b0" stroke-width="0.7"/>
<rect x="274.20" y="861.93" width="3.90" height="8.00" fill="#a9a9a9"/>
<rect x="523.20" y="863.33" width="4.60" height="5.20" fill="#a9a9a9"/>
<text x="231.7" y="868.6300000000001" font-size="7.4" text-anchor="start" fill="#b7b7b7" font-weight="bold" textLength="40.2" lengthAdjust="spacingAndGlyphs" stroke="#b7b7b7" stroke-width="0.3">PCDHA13</text>
<line x1="365.70" y1="875.32" x2="523.20" y2="875.32" stroke="#c0c0c0" stroke-width="0.8"/>
<path d="M368.2 872.6L371.3 875.3L368.2 878.0M374.2 872.6L377.3 875.3L374.2 878.0M380.3 872.6L383.4 875.3L380.3 878.0M386.3 872.6L389.4 875.3L386.3 878.0M392.4 872.6L395.5 875.3L392.4 878.0M398.4 872.6L401.5 875.3L398.4 878.0M404.4 872.6L407.5 875.3L404.4 878.0M410.5 872.6L413.6 875.3L410.5 878.0M416.5 872.6L419.6 875.3L416.5 878.0M422.6 872.6L425.7 875.3L422.6 878.0M428.6 872.6L431.7 875.3L428.6 878.0M434.6 872.6L437.7 875.3L434.6 878.0M440.7 872.6L443.8 875.3L440.7 878.0M446.7 872.6L449.8 875.3L446.7 878.0M452.8 872.6L455.9 875.3L452.8 878.0M473.9 872.6L477.0 875.3L473.9 878.0M479.9 872.6L483.0 875.3L479.9 878.0M486.0 872.6L489.1 875.3L486.0 878.0M492.0 872.6L495.1 875.3L492.0 878.0M498.1 872.6L501.2 875.3L498.1 878.0M504.1 872.6L507.2 875.3L504.1 878.0M510.1 872.6L513.2 875.3L510.1 878.0M516.2 872.6L519.3 875.3L516.2 878.0" fill="none" stroke="#b0b0b0" stroke-width="0.7"/>
<rect x="360.80" y="871.32" width="4.90" height="8.00" fill="#a9a9a9"/>
<rect x="523.20" y="872.72" width="4.60" height="5.20" fill="#a9a9a9"/>
<text x="318.0" y="878.0200000000001" font-size="7.4" text-anchor="start" fill="#b7b7b7" font-weight="bold" textLength="41.2" lengthAdjust="spacingAndGlyphs" stroke="#b7b7b7" stroke-width="0.3">PCDHAC1</text>
<line x1="443.50" y1="884.71" x2="523.20" y2="884.71" stroke="#c0c0c0" stroke-width="0.8"/>
<path d="M446.0 882.0L449.1 884.7L446.0 887.4M452.0 882.0L455.1 884.7L452.0 887.4M458.1 882.0L461.2 884.7L458.1 887.4M473.9 882.0L477.0 884.7L473.9 887.4M479.9 882.0L483.0 884.7L479.9 887.4M486.0 882.0L489.1 884.7L486.0 887.4M492.0 882.0L495.1 884.7L492.0 887.4M498.1 882.0L501.2 884.7L498.1 887.4M504.1 882.0L507.2 884.7L504.1 887.4M510.1 882.0L513.2 884.7L510.1 887.4M516.2 882.0L519.3 884.7L516.2 887.4" fill="none" stroke="#b0b0b0" stroke-width="0.7"/>
<rect x="438.60" y="880.71" width="4.90" height="8.00" fill="#a9a9a9"/>
<rect x="523.20" y="882.11" width="4.60" height="5.20" fill="#a9a9a9"/>
<text x="396.8" y="887.4100000000001" font-size="7.4" text-anchor="start" fill="#b7b7b7" font-weight="bold" textLength="40.0" lengthAdjust="spacingAndGlyphs" stroke="#b7b7b7" stroke-width="0.3">PCDHAC2</text>
<text x="74.3" y="898.6" font-size="7.5" text-anchor="end" fill="#000">gnomAD v4.1 variants</text>
<rect x="536.20" y="715.10" width="147.80" height="14.15" fill="#e5e6e5"/>
<text x="541.5" y="724.65" font-size="6.8" text-anchor="start" fill="#000" font-weight="bold" textLength="8.9" lengthAdjust="spacingAndGlyphs">pLI</text>
<text x="607.8" y="724.65" font-size="6.9" text-anchor="start" fill="#111" textLength="44.2" lengthAdjust="spacingAndGlyphs">Unconstrained</text>
<text x="678.2" y="724.65" font-size="6.9" text-anchor="end" fill="#111">0</text>
<rect x="536.20" y="729.20" width="147.80" height="14.15" fill="#e5e6e5"/>
<text x="541.5" y="738.75" font-size="6.8" text-anchor="start" fill="#000" font-weight="bold" textLength="19.9" lengthAdjust="spacingAndGlyphs">LOEUF</text>
<text x="607.8" y="738.75" font-size="6.9" text-anchor="start" fill="#111" textLength="44.2" lengthAdjust="spacingAndGlyphs">Unconstrained</text>
<text x="678.2" y="738.75" font-size="6.9" text-anchor="end" fill="#111">0.85</text>
<rect x="536.20" y="743.30" width="147.80" height="14.15" fill="#dda0ac"/>
<text x="541.5" y="752.85" font-size="6.8" text-anchor="start" fill="#000" font-weight="bold" textLength="53.8" lengthAdjust="spacingAndGlyphs">OE95 NMD target</text>
<text x="607.8" y="752.85" font-size="6.9" text-anchor="start" fill="#111" textLength="44.2" lengthAdjust="spacingAndGlyphs">Unconstrained</text>
<text x="678.2" y="752.85" font-size="6.9" text-anchor="end" fill="#111">1.1</text>
<rect x="536.20" y="757.40" width="147.80" height="14.15" fill="#d8edf2"/>
<text x="541.5" y="766.9499999999999" font-size="6.8" text-anchor="start" fill="#000" font-weight="bold" textLength="32.2" lengthAdjust="spacingAndGlyphs">OE95 Start</text>
<text x="607.8" y="766.9499999999999" font-size="6.9" text-anchor="start" fill="#111" textLength="44.2" lengthAdjust="spacingAndGlyphs">Unconstrained</text>
<text x="678.2" y="766.9499999999999" font-size="6.9" text-anchor="end" fill="#111">2.6</text>
<rect x="536.20" y="771.50" width="147.80" height="14.15" fill="#b8cce4"/>
<text x="541.5" y="781.05" font-size="6.8" text-anchor="start" fill="#000" font-weight="bold" textLength="48.8" lengthAdjust="spacingAndGlyphs">OE95 Long exon</text>
<text x="607.8" y="781.05" font-size="6.9" text-anchor="start" fill="#111" textLength="44.2" lengthAdjust="spacingAndGlyphs">Unconstrained</text>
<text x="678.2" y="781.05" font-size="6.9" text-anchor="end" fill="#111">1.2</text>
<rect x="536.20" y="785.60" width="147.80" height="14.15" fill="#aab0d0"/>
<text x="541.5" y="795.15" font-size="6.8" text-anchor="start" fill="#000" font-weight="bold" textLength="34.8" lengthAdjust="spacingAndGlyphs">OE95 Distal</text>
<text x="607.8" y="795.15" font-size="6.9" text-anchor="start" fill="#111" textLength="36.4" lengthAdjust="spacingAndGlyphs">Constrained</text>
<text x="678.2" y="795.15" font-size="6.9" text-anchor="end" fill="#111">0.45</text>
<rect x="658.20" y="715.10" width="25.80" height="84.60" fill="#000" opacity="0.015"/>
<line x1="86.70" y1="894.60" x2="86.70" y2="916.00" stroke="#b5202e" stroke-width="0.8"/>
<line x1="88.20" y1="894.60" x2="88.20" y2="916.00" stroke="#efd0d7" stroke-width="1.2"/>
<line x1="90.50" y1="894.60" x2="90.50" y2="905.00" stroke="#b5202e" stroke-width="0.8"/>
<circle cx="85.80" cy="925.90" r="10.30" fill="#b5202e" stroke="#fff" stroke-width="0.4"/>
<circle cx="87.60" cy="927.40" r="10.30" fill="#efd0d7" stroke="#fff" stroke-width="0.4"/>
<circle cx="89.30" cy="928.00" r="3.50" fill="#b5202e" stroke="#fff" stroke-width="0.4"/>
<circle cx="90.20" cy="907.80" r="3.50" fill="#efd0d7" stroke="#fff" stroke-width="0.4"/>
<line x1="103.20" y1="894.60" x2="103.20" y2="905.00" stroke="#b5202e" stroke-width="0.8"/>
<line x1="105.30" y1="894.60" x2="105.30" y2="920.00" stroke="#efd0d7" stroke-width="2.2"/>
<line x1="107.40" y1="894.60" x2="107.40" y2="920.00" stroke="#b5202e" stroke-width="0.8"/>
<circle cx="103.20" cy="908.50" r="3.60" fill="#efd0d7" stroke="#fff" stroke-width="0.4"/>
<circle cx="101.60" cy="928.50" r="9.40" fill="#efd0d7" stroke="#fff" stroke-width="0.4"/>
<circle cx="105.90" cy="931.10" r="10.50" fill="#b5202e" stroke="#fff" stroke-width="0.4"/>
<circle cx="106.30" cy="931.40" r="10.20" fill="#efd0d7" stroke="#fff" stroke-width="0.4"/>
<circle cx="110.60" cy="931.80" r="9.70" fill="#b5202e" stroke="#fff" stroke-width="0.4"/>
<circle cx="111.00" cy="932.00" r="9.50" fill="#efd0d7" stroke="#fff" stroke-width="0.4"/>
<line x1="115.50" y1="894.60" x2="115.50" y2="905.00" stroke="#b5202e" stroke-width="0.8"/>
<line x1="118.10" y1="894.60" x2="118.10" y2="915.00" stroke="#efd0d7" stroke-width="2.6"/>
<circle cx="115.10" cy="907.70" r="3.50" fill="#efd0d7" stroke="#fff" stroke-width="0.4"/>
<circle cx="118.10" cy="913.70" r="3.00" fill="#b5202e" stroke="#fff" stroke-width="0.4"/>
<circle cx="115.80" cy="930.50" r="9.60" fill="#efd0d7" stroke="#fff" stroke-width="0.4"/>
<circle cx="116.30" cy="924.00" r="9.20" fill="#efd0d7" stroke="#fff" stroke-width="0.4"/>
<circle cx="118.50" cy="924.50" r="3.30" fill="#b5202e" stroke="#fff" stroke-width="0.4"/>
<line x1="127.30" y1="894.60" x2="127.30" y2="912.00" stroke="#b5202e" stroke-width="0.8"/>
<line x1="129.10" y1="894.60" x2="129.10" y2="918.00" stroke="#efd0d7" stroke-width="1.2"/>
<line x1="131.00" y1="894.60" x2="131.00" y2="912.00" stroke="#cf6f7a" stroke-width="1.0"/>
<circle cx="127.20" cy="914.50" r="3.30" fill="#b5202e" stroke="#fff" stroke-width="0.4"/>
<circle cx="131.00" cy="914.50" r="3.60" fill="#efd0d7" stroke="#fff" stroke-width="0.4"/>
<circle cx="130.60" cy="928.50" r="10.40" fill="#b5202e" stroke="#fff" stroke-width="0.4"/>
<circle cx="130.60" cy="928.50" r="4.10" fill="#efd0d7" stroke="#fff" stroke-width="0.4"/>
<line x1="157.70" y1="894.60" x2="157.70" y2="905.00" stroke="#efd0d7" stroke-width="4.0"/>
<line x1="168.10" y1="894.60" x2="168.10" y2="912.00" stroke="#b5202e" stroke-width="0.8"/>
<line x1="169.60" y1="894.60" x2="169.60" y2="912.00" stroke="#d98a95" stroke-width="0.9"/>
<line x1="171.00" y1="894.60" x2="171.00" y2="912.00" stroke="#b5202e" stroke-width="0.8"/>
<circle cx="159.70" cy="905.30" r="3.50" fill="#efd0d7" stroke="#fff" stroke-width="0.4"/>
<circle cx="154.00" cy="926.60" r="8.90" fill="#efd0d7" stroke="#fff" stroke-width="0.4"/>
<circle cx="158.00" cy="915.20" r="3.30" fill="#b5202e" stroke="#fff" stroke-width="0.4"/>
<circle cx="158.90" cy="931.80" r="9.40" fill="#b5202e" stroke="#fff" stroke-width="0.4"/>
<circle cx="166.40" cy="925.20" r="10.20" fill="#b5202e" stroke="#fff" stroke-width="0.4"/>
<circle cx="168.40" cy="924.60" r="9.60" fill="#b5202e" stroke="#fff" stroke-width="0.4"/>
<circle cx="170.90" cy="926.50" r="3.50" fill="#efd0d7" stroke="#fff" stroke-width="0.4"/>
<circle cx="172.00" cy="913.60" r="3.50" fill="#b5202e" stroke="#fff" stroke-width="0.4"/>
<line x1="180.60" y1="894.60" x2="180.60" y2="906.00" stroke="#b5202e" stroke-width="0.8"/>
<line x1="182.00" y1="894.60" x2="182.00" y2="918.00" stroke="#e8b4bd" stroke-width="1.2"/>
<line x1="183.50" y1="894.60" x2="183.50" y2="918.00" stroke="#b5202e" stroke-width="0.8"/>
<circle cx="180.90" cy="907.70" r="3.50" fill="#b5202e" stroke="#fff" stroke-width="0.4"/>
<circle cx="182.80" cy="931.00" r="10.30" fill="#b5202e" stroke="#fff" stroke-width="0.4"/>
<circle cx="182.60" cy="930.60" r="10.10" fill="#efd0d7" stroke="#fff" stroke-width="0.4"/>
<circle cx="183.80" cy="922.80" r="9.60" fill="#efd0d7" stroke="#fff" stroke-width="0.4"/>
<circle cx="183.80" cy="921.70" r="3.30" fill="#b5202e" stroke="#fff" stroke-width="0.4"/>
<line x1="194.80" y1="894.60" x2="194.80" y2="915.00" stroke="#efd0d7" stroke-width="3.0"/>
<line x1="196.60" y1="894.60" x2="196.60" y2="915.00" stroke="#dc919c" stroke-width="0.9"/>
<circle cx="193.40" cy="907.40" r="3.40" fill="#b5202e" stroke="#fff" stroke-width="0.4"/>
<circle cx="195.80" cy="912.90" r="3.00" fill="#b5202e" stroke="#fff" stroke-width="0.4"/>
<circle cx="194.00" cy="924.60" r="8.40" fill="#b5202e" stroke="#fff" stroke-width="0.4"/>
<circle cx="196.30" cy="931.00" r="10.30" fill="#b5202e" stroke="#fff" stroke-width="0.4"/>
<line x1="209.20" y1="894.60" x2="209.20" y2="912.00" stroke="#dc919c" stroke-width="3.2"/>
<line x1="211.20" y1="894.60" x2="211.20" y2="912.00" stroke="#b5202e" stroke-width="0.8"/>
<line x1="207.60" y1="894.60" x2="207.60" y2="906.00" stroke="#b5202e" stroke-width="0.6"/>
<circle cx="208.20" cy="908.40" r="3.40" fill="#efd0d7" stroke="#fff" stroke-width="0.4"/>
<circle cx="207.00" cy="923.60" r="9.00" fill="#b5202e" stroke="#fff" stroke-width="0.4"/>
<circle cx="209.20" cy="930.40" r="10.00" fill="#b5202e" stroke="#fff" stroke-width="0.4"/>
<circle cx="209.90" cy="928.90" r="3.70" fill="#efd0d7" stroke="#fff" stroke-width="0.4"/>
<circle cx="211.90" cy="914.10" r="3.70" fill="#b5202e" stroke="#fff" stroke-width="0.4"/>
<line x1="222.60" y1="894.60" x2="222.60" y2="908.00" stroke="#efd0d7" stroke-width="1.0"/>
<line x1="224.40" y1="894.60" x2="224.40" y2="916.00" stroke="#b5202e" stroke-width="0.8"/>
<line x1="226.10" y1="894.60" x2="226.10" y2="912.00" stroke="#b5202e" stroke-width="0.8"/>
<circle cx="222.10" cy="909.60" r="3.50" fill="#efd0d7" stroke="#fff" stroke-width="0.4"/>
<circle cx="220.90" cy="926.00" r="9.00" fill="#efd0d7" stroke="#fff" stroke-width="0.4"/>
<circle cx="225.60" cy="926.20" r="9.60" fill="#b5202e" stroke="#fff" stroke-width="0.4"/>
<circle cx="225.60" cy="926.20" r="3.80" fill="#efd0d7" stroke="#fff" stroke-width="0.4"/>
<circle cx="226.50" cy="913.00" r="3.50" fill="#efd0d7" stroke="#fff" stroke-width="0.4"/>
<line x1="247.60" y1="894.60" x2="247.60" y2="918.00" stroke="#dc919c" stroke-width="0.9"/>
<line x1="249.20" y1="894.60" x2="249.20" y2="918.00" stroke="#efd0d7" stroke-width="1.0"/>
<line x1="250.90" y1="894.60" x2="250.90" y2="918.00" stroke="#e3a5af" stroke-width="0.9"/>
<circle cx="247.60" cy="911.70" r="3.50" fill="#efd0d7" stroke="#fff" stroke-width="0.4"/>
<circle cx="246.30" cy="925.50" r="9.60" fill="#efd0d7" stroke="#fff" stroke-width="0.4"/>
<circle cx="247.20" cy="926.80" r="8.60" fill="#b5202e" stroke="#fff" stroke-width="0.4"/>
<circle cx="251.40" cy="937.80" r="10.20" fill="#b5202e" stroke="#fff" stroke-width="0.4"/>
<line x1="262.70" y1="894.60" x2="262.70" y2="920.00" stroke="#efd0d7" stroke-width="4.4"/>
<circle cx="259.90" cy="930.40" r="10.60" fill="#efd0d7" stroke="#fff" stroke-width="0.4"/>
<circle cx="260.40" cy="932.60" r="9.40" fill="#efd0d7" stroke="#fff" stroke-width="0.4"/>
<circle cx="261.30" cy="931.80" r="3.20" fill="#b5202e" stroke="#fff" stroke-width="0.4"/>
<circle cx="263.40" cy="916.00" r="3.40" fill="#efd0d7" stroke="#fff" stroke-width="0.4"/>
<circle cx="264.10" cy="915.30" r="3.50" fill="#b5202e" stroke="#fff" stroke-width="0.4"/>
<circle cx="264.90" cy="908.10" r="3.50" fill="#b5202e" stroke="#fff" stroke-width="0.4"/>
<line x1="274.50" y1="894.60" x2="274.50" y2="920.00" stroke="#b5202e" stroke-width="0.8"/>
<line x1="275.80" y1="894.60" x2="275.80" y2="920.00" stroke="#efd0d7" stroke-width="1.0"/>
<line x1="277.00" y1="894.60" x2="277.00" y2="920.00" stroke="#d0707b" stroke-width="0.9"/>
<circle cx="278.20" cy="904.40" r="3.40" fill="#efd0d7" stroke="#fff" stroke-width="0.4"/>
<circle cx="276.60" cy="927.60" r="10.80" fill="#b5202e" stroke="#fff" stroke-width="0.4"/>
<circle cx="277.80" cy="930.60" r="9.40" fill="#b5202e" stroke="#fff" stroke-width="0.4"/>
<line x1="362.60" y1="894.60" x2="362.60" y2="925.00" stroke="#efd0d7" stroke-width="2.4"/>
<line x1="365.60" y1="894.60" x2="365.60" y2="903.00" stroke="#b5202e" stroke-width="0.8"/>
<circle cx="360.30" cy="909.00" r="3.50" fill="#b5202e" stroke="#fff" stroke-width="0.4"/>
<circle cx="365.20" cy="905.50" r="3.50" fill="#efd0d7" stroke="#fff" stroke-width="0.4"/>
<circle cx="361.20" cy="932.40" r="11.00" fill="#efd0d7" stroke="#fff" stroke-width="0.4"/>
<circle cx="362.70" cy="935.70" r="12.40" fill="#efd0d7" stroke="#fff" stroke-width="0.4"/>
<circle cx="363.50" cy="936.70" r="3.50" fill="#b5202e" stroke="#fff" stroke-width="0.4"/>
<circle cx="364.70" cy="926.60" r="9.10" fill="#b5202e" stroke="#fff" stroke-width="0.4"/>
<line x1="439.30" y1="894.60" x2="439.30" y2="910.00" stroke="#b5202e" stroke-width="0.8"/>
<line x1="442.20" y1="894.60" x2="442.20" y2="912.00" stroke="#efd0d7" stroke-width="1.8"/>
<circle cx="439.60" cy="909.80" r="2.60" fill="#b5202e" stroke="#fff" stroke-width="0.4"/>
<circle cx="441.00" cy="920.30" r="9.30" fill="#efd0d7" stroke="#fff" stroke-width="0.4"/>
<circle cx="441.00" cy="920.30" r="3.50" fill="#b5202e" stroke="#fff" stroke-width="0.4"/>
<circle cx="441.40" cy="909.40" r="2.80" fill="#b5202e" stroke="#fff" stroke-width="0.4"/>
<circle cx="443.10" cy="908.40" r="3.50" fill="#b5202e" stroke="#fff" stroke-width="0.4"/>
<line x1="462.50" y1="894.60" x2="462.50" y2="903.70" stroke="#efd0d7" stroke-width="0.7"/>
<circle cx="462.50" cy="903.70" r="3.50" fill="#efd0d7" stroke="#fff" stroke-width="0.4"/>
<line x1="469.70" y1="894.60" x2="469.70" y2="903.70" stroke="#efd0d7" stroke-width="0.7"/>
<circle cx="469.70" cy="903.70" r="3.50" fill="#efd0d7" stroke="#fff" stroke-width="0.4"/>
<line x1="523.00" y1="894.60" x2="523.00" y2="906.80" stroke="#efd0d7" stroke-width="0.7"/>
<circle cx="523.00" cy="906.80" r="3.50" fill="#efd0d7" stroke="#fff" stroke-width="0.4"/>
</svg></body></html>
